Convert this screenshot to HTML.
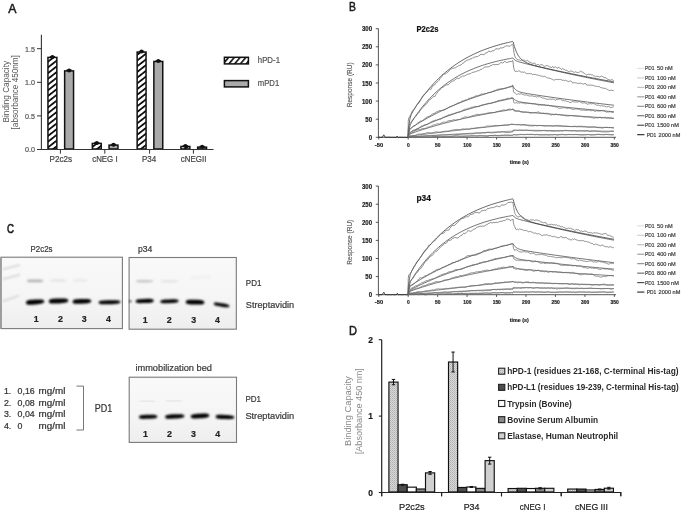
<!DOCTYPE html>
<html><head><meta charset="utf-8"><style>
html,body{margin:0;padding:0;background:#fff;}
svg{display:block;will-change:transform;filter:blur(0.35px);font-family:"Liberation Sans", sans-serif;}
</style></head><body>
<svg width="685" height="512" viewBox="0 0 685 512">
<defs>
<pattern id="hatchA" patternUnits="userSpaceOnUse" width="4.5" height="4.5" patternTransform="translate(0,1) rotate(-38)">
<rect width="4.5" height="4.5" fill="#fff"/><rect y="0" width="4.5" height="1.8" fill="#111"/></pattern>
<pattern id="hatchL" patternUnits="userSpaceOnUse" width="4.4" height="4.4" patternTransform="rotate(-50)">
<rect width="4.4" height="4.4" fill="#fff"/><rect y="0" width="4.4" height="1.6" fill="#111"/></pattern>
<pattern id="hatchD" patternUnits="userSpaceOnUse" width="2" height="2">
<rect width="2" height="2" fill="#d8d8d8"/><rect width="1" height="1" fill="#b0b0b0"/><rect x="1" y="1" width="1" height="1" fill="#c0c0c0"/></pattern>
<linearGradient id="gelbg" x1="0" y1="0" x2="0" y2="1"><stop offset="0" stop-color="#f9f9f9"/><stop offset="0.6" stop-color="#f5f5f5"/><stop offset="1" stop-color="#eeeeee"/></linearGradient>
<filter id="bblur" x="-20%" y="-50%" width="140%" height="200%"><feGaussianBlur stdDeviation="0.85"/></filter>
<filter id="lblur" x="-20%" y="-100%" width="140%" height="300%"><feGaussianBlur stdDeviation="0.9"/></filter>
<filter id="sblur" x="-20%" y="-100%" width="140%" height="300%"><feGaussianBlur stdDeviation="0.6"/></filter>
</defs>
<rect width="685" height="512" fill="#fff"/>
<text x="8.2" y="13.2" font-size="12.3" fill="#1a1a1a" text-anchor="start" font-weight="normal" textLength="8.2" lengthAdjust="spacingAndGlyphs" stroke="#1a1a1a" stroke-width="0.5" >A</text>
<line x1="41.4" y1="34.7" x2="41.4" y2="150.0" stroke="#333" stroke-width="1.1" />
<line x1="40.9" y1="149.5" x2="213.3" y2="149.5" stroke="#333" stroke-width="1.1" />
<line x1="37.0" y1="149.5" x2="41.4" y2="149.5" stroke="#333" stroke-width="1" />
<text x="34.9" y="152.4" font-size="8.0" fill="#555" text-anchor="end" font-weight="normal" textLength="9.9" lengthAdjust="spacingAndGlyphs" stroke="#555" stroke-width="0.22" >0.0</text>
<line x1="37.0" y1="115.9" x2="41.4" y2="115.9" stroke="#333" stroke-width="1" />
<text x="34.9" y="118.80000000000001" font-size="8.0" fill="#555" text-anchor="end" font-weight="normal" textLength="9.9" lengthAdjust="spacingAndGlyphs" stroke="#555" stroke-width="0.22" >0.5</text>
<line x1="37.0" y1="82.3" x2="41.4" y2="82.3" stroke="#333" stroke-width="1" />
<text x="34.9" y="85.2" font-size="8.0" fill="#555" text-anchor="end" font-weight="normal" textLength="9.9" lengthAdjust="spacingAndGlyphs" stroke="#555" stroke-width="0.22" >1.0</text>
<line x1="37.0" y1="48.69999999999999" x2="41.4" y2="48.69999999999999" stroke="#333" stroke-width="1" />
<text x="34.9" y="51.59999999999999" font-size="8.0" fill="#555" text-anchor="end" font-weight="normal" textLength="9.9" lengthAdjust="spacingAndGlyphs" stroke="#555" stroke-width="0.22" >1.5</text>
<line x1="60.4" y1="149.5" x2="60.4" y2="153.7" stroke="#333" stroke-width="1" />
<text x="60.75" y="162.4" font-size="8.6" fill="#444" text-anchor="middle" font-weight="normal" textLength="22.5" lengthAdjust="spacingAndGlyphs" stroke="#444" stroke-width="0.22" >P2c2s</text>
<rect x="47.95" y="57.44" width="8.90" height="91.56" fill="url(#hatchA)" stroke="#111" stroke-width="1.5" />
<circle cx="52.40" cy="56.94" r="2.0" fill="#111"/>
<line x1="49.7" y1="56.635999999999996" x2="55.10000000000001" y2="56.635999999999996" stroke="#111" stroke-width="1" />
<rect x="64.65" y="70.88" width="8.90" height="78.12" fill="#aaa" stroke="#111" stroke-width="1.5" />
<circle cx="69.10" cy="70.38" r="2.0" fill="#111"/>
<line x1="66.39999999999999" y1="70.07600000000001" x2="71.8" y2="70.07600000000001" stroke="#111" stroke-width="1" />
<line x1="104.8" y1="149.5" x2="104.8" y2="153.7" stroke="#333" stroke-width="1" />
<text x="104.9" y="162.4" font-size="8.6" fill="#444" text-anchor="middle" font-weight="normal" textLength="25.4" lengthAdjust="spacingAndGlyphs" stroke="#444" stroke-width="0.22" >cNEG I</text>
<rect x="92.35" y="143.45" width="8.90" height="5.55" fill="url(#hatchA)" stroke="#111" stroke-width="1.5" />
<circle cx="96.80" cy="142.95" r="2.0" fill="#111"/>
<line x1="94.1" y1="142.652" x2="99.5" y2="142.652" stroke="#111" stroke-width="1" />
<rect x="109.05" y="145.13" width="8.90" height="3.87" fill="#aaa" stroke="#111" stroke-width="1.5" />
<circle cx="113.50" cy="144.63" r="2.0" fill="#111"/>
<line x1="110.8" y1="144.332" x2="116.2" y2="144.332" stroke="#111" stroke-width="1" />
<line x1="149.6" y1="149.5" x2="149.6" y2="153.7" stroke="#333" stroke-width="1" />
<text x="149.1" y="162.4" font-size="8.6" fill="#444" text-anchor="middle" font-weight="normal" textLength="14.2" lengthAdjust="spacingAndGlyphs" stroke="#444" stroke-width="0.22" >P34</text>
<rect x="137.15" y="52.06" width="8.90" height="96.94" fill="url(#hatchA)" stroke="#111" stroke-width="1.5" />
<circle cx="141.60" cy="51.56" r="2.0" fill="#111"/>
<line x1="138.9" y1="51.260000000000005" x2="144.29999999999998" y2="51.260000000000005" stroke="#111" stroke-width="1" />
<rect x="153.85" y="61.47" width="8.90" height="87.53" fill="#aaa" stroke="#111" stroke-width="1.5" />
<circle cx="158.30" cy="60.97" r="2.0" fill="#111"/>
<line x1="155.6" y1="60.66799999999999" x2="160.99999999999997" y2="60.66799999999999" stroke="#111" stroke-width="1" />
<line x1="193.4" y1="149.5" x2="193.4" y2="153.7" stroke="#333" stroke-width="1" />
<text x="193.65" y="162.4" font-size="8.6" fill="#444" text-anchor="middle" font-weight="normal" textLength="25.7" lengthAdjust="spacingAndGlyphs" stroke="#444" stroke-width="0.22" >cNEGII</text>
<rect x="180.95" y="146.48" width="8.90" height="2.52" fill="url(#hatchA)" stroke="#111" stroke-width="1.5" />
<circle cx="185.40" cy="145.98" r="2.0" fill="#111"/>
<line x1="182.70000000000002" y1="145.676" x2="188.1" y2="145.676" stroke="#111" stroke-width="1" />
<rect x="197.65" y="147.15" width="8.90" height="1.85" fill="#aaa" stroke="#111" stroke-width="1.5" />
<circle cx="202.10" cy="146.65" r="2.0" fill="#111"/>
<line x1="199.4" y1="146.34799999999998" x2="204.79999999999998" y2="146.34799999999998" stroke="#111" stroke-width="1" />
<line x1="40.9" y1="149.5" x2="213.3" y2="149.5" stroke="#333" stroke-width="1.1" />
<rect x="224.40" y="57.30" width="24.00" height="6.60" fill="url(#hatchL)" stroke="#111" stroke-width="1.5" />
<rect x="224.40" y="80.60" width="24.00" height="6.30" fill="#aaa" stroke="#111" stroke-width="1.5" />
<text x="257.8" y="63.2" font-size="8.4" fill="#555" text-anchor="start" font-weight="normal" textLength="22.2" lengthAdjust="spacingAndGlyphs" stroke="#555" stroke-width="0.22" >hPD-1</text>
<text x="257.8" y="86.0" font-size="8.4" fill="#555" text-anchor="start" font-weight="normal" textLength="21.4" lengthAdjust="spacingAndGlyphs" stroke="#555" stroke-width="0.22" >mPD1</text>
<text transform="translate(9.2,91.7) rotate(-90)" font-size="8.2" fill="#555" text-anchor="middle" textLength="61.5" lengthAdjust="spacingAndGlyphs">Binding Capacity</text>
<text transform="translate(18.3,92.3) rotate(-90)" font-size="8.2" fill="#555" text-anchor="middle" textLength="74.2" lengthAdjust="spacingAndGlyphs">[absorbance 450nm]</text>
<text x="349.0" y="11.1" font-size="12.3" fill="#1a1a1a" text-anchor="start" font-weight="normal" textLength="6.9" lengthAdjust="spacingAndGlyphs" stroke="#1a1a1a" stroke-width="0.55">B</text>
<line x1="378.4" y1="28.5" x2="378.4" y2="137.8" stroke="#444" stroke-width="0.9" />
<line x1="378.0" y1="137.3" x2="616" y2="137.3" stroke="#444" stroke-width="0.9" />
<line x1="375.8" y1="137.3" x2="378.4" y2="137.3" stroke="#444" stroke-width="0.9" />
<text x="372.0" y="139.8" font-size="7.0" fill="#222" text-anchor="end" font-weight="bold" textLength="3.35" lengthAdjust="spacingAndGlyphs" stroke="#222" stroke-width="0.2" >0</text>
<line x1="375.8" y1="119.20000000000002" x2="378.4" y2="119.20000000000002" stroke="#444" stroke-width="0.9" />
<text x="372.0" y="121.70000000000002" font-size="7.0" fill="#222" text-anchor="end" font-weight="bold" textLength="6.7" lengthAdjust="spacingAndGlyphs" stroke="#222" stroke-width="0.2" >50</text>
<line x1="375.8" y1="101.10000000000001" x2="378.4" y2="101.10000000000001" stroke="#444" stroke-width="0.9" />
<text x="372.0" y="103.60000000000001" font-size="7.0" fill="#222" text-anchor="end" font-weight="bold" textLength="10.05" lengthAdjust="spacingAndGlyphs" stroke="#222" stroke-width="0.2" >100</text>
<line x1="375.8" y1="83.0" x2="378.4" y2="83.0" stroke="#444" stroke-width="0.9" />
<text x="372.0" y="85.5" font-size="7.0" fill="#222" text-anchor="end" font-weight="bold" textLength="10.05" lengthAdjust="spacingAndGlyphs" stroke="#222" stroke-width="0.2" >150</text>
<line x1="375.8" y1="64.9" x2="378.4" y2="64.9" stroke="#444" stroke-width="0.9" />
<text x="372.0" y="67.4" font-size="7.0" fill="#222" text-anchor="end" font-weight="bold" textLength="10.05" lengthAdjust="spacingAndGlyphs" stroke="#222" stroke-width="0.2" >200</text>
<line x1="375.8" y1="46.8" x2="378.4" y2="46.8" stroke="#444" stroke-width="0.9" />
<text x="372.0" y="49.3" font-size="7.0" fill="#222" text-anchor="end" font-weight="bold" textLength="10.05" lengthAdjust="spacingAndGlyphs" stroke="#222" stroke-width="0.2" >250</text>
<line x1="375.8" y1="28.700000000000003" x2="378.4" y2="28.700000000000003" stroke="#444" stroke-width="0.9" />
<text x="372.0" y="31.200000000000003" font-size="7.0" fill="#222" text-anchor="end" font-weight="bold" textLength="10.05" lengthAdjust="spacingAndGlyphs" stroke="#222" stroke-width="0.2" >300</text>
<line x1="378.75" y1="137.3" x2="378.75" y2="139.5" stroke="#444" stroke-width="0.9" />
<text x="378.95" y="146.9" font-size="5.8" fill="#222" text-anchor="middle" font-weight="bold" textLength="8.25" lengthAdjust="spacingAndGlyphs" stroke="#222" stroke-width="0.2" >-50</text>
<line x1="408.2" y1="137.3" x2="408.2" y2="139.5" stroke="#444" stroke-width="0.9" />
<text x="408.4" y="146.9" font-size="5.8" fill="#222" text-anchor="middle" font-weight="bold" textLength="2.75" lengthAdjust="spacingAndGlyphs" stroke="#222" stroke-width="0.2" >0</text>
<line x1="437.65" y1="137.3" x2="437.65" y2="139.5" stroke="#444" stroke-width="0.9" />
<text x="437.84999999999997" y="146.9" font-size="5.8" fill="#222" text-anchor="middle" font-weight="bold" textLength="5.5" lengthAdjust="spacingAndGlyphs" stroke="#222" stroke-width="0.2" >50</text>
<line x1="467.09999999999997" y1="137.3" x2="467.09999999999997" y2="139.5" stroke="#444" stroke-width="0.9" />
<text x="467.29999999999995" y="146.9" font-size="5.8" fill="#222" text-anchor="middle" font-weight="bold" textLength="8.25" lengthAdjust="spacingAndGlyphs" stroke="#222" stroke-width="0.2" >100</text>
<line x1="496.54999999999995" y1="137.3" x2="496.54999999999995" y2="139.5" stroke="#444" stroke-width="0.9" />
<text x="496.74999999999994" y="146.9" font-size="5.8" fill="#222" text-anchor="middle" font-weight="bold" textLength="8.25" lengthAdjust="spacingAndGlyphs" stroke="#222" stroke-width="0.2" >150</text>
<line x1="526.0" y1="137.3" x2="526.0" y2="139.5" stroke="#444" stroke-width="0.9" />
<text x="526.2" y="146.9" font-size="5.8" fill="#222" text-anchor="middle" font-weight="bold" textLength="8.25" lengthAdjust="spacingAndGlyphs" stroke="#222" stroke-width="0.2" >200</text>
<line x1="555.45" y1="137.3" x2="555.45" y2="139.5" stroke="#444" stroke-width="0.9" />
<text x="555.6500000000001" y="146.9" font-size="5.8" fill="#222" text-anchor="middle" font-weight="bold" textLength="8.25" lengthAdjust="spacingAndGlyphs" stroke="#222" stroke-width="0.2" >250</text>
<line x1="584.9" y1="137.3" x2="584.9" y2="139.5" stroke="#444" stroke-width="0.9" />
<text x="585.1" y="146.9" font-size="5.8" fill="#222" text-anchor="middle" font-weight="bold" textLength="8.25" lengthAdjust="spacingAndGlyphs" stroke="#222" stroke-width="0.2" >300</text>
<line x1="614.3499999999999" y1="137.3" x2="614.3499999999999" y2="139.5" stroke="#444" stroke-width="0.9" />
<text x="614.55" y="146.9" font-size="5.8" fill="#222" text-anchor="middle" font-weight="bold" textLength="8.25" lengthAdjust="spacingAndGlyphs" stroke="#222" stroke-width="0.2" >350</text>
<text x="519.3" y="164.4" font-size="5.8" fill="#222" text-anchor="middle" font-weight="bold" textLength="19" lengthAdjust="spacingAndGlyphs" stroke="#222" stroke-width="0.2" >time (s)</text>
<text transform="translate(352.2,84.8) rotate(-90)" font-size="7.6" fill="#5a5a5a" stroke="#5a5a5a" stroke-width="0.15" text-anchor="middle" textLength="45" lengthAdjust="spacingAndGlyphs">Response (RU)</text>
<text x="416.5" y="32.1" font-size="8.6" fill="#111" text-anchor="start" font-weight="bold" textLength="21.9" lengthAdjust="spacingAndGlyphs" stroke="#111" stroke-width="0.2" >P2c2s</text>
<polyline fill="none" stroke="#222" stroke-width="1" points="378.75,137.26 379.04,137.21 379.34,137.19 379.63,137.14 379.93,137.21 380.22,137.15 380.52,137.47 380.81,137.31 381.11,137.14 381.40,137.25 381.69,137.15 381.99,137.44 382.28,137.31 382.58,136.88 382.87,136.27 383.17,135.75 383.46,135.45 383.76,134.87 384.05,135.35 384.35,135.63 384.64,136.19 384.93,136.92 385.23,137.19 385.52,137.43 385.82,137.26 386.11,137.44 386.41,137.48 386.70,137.17 387.00,137.41 387.29,137.40 387.58,137.13 387.88,137.17 388.17,137.38 388.47,137.13 388.76,137.29 389.06,137.24 389.35,137.41 389.65,137.14 389.94,137.23 390.24,137.13 390.53,137.16 390.82,137.37 391.12,137.35 391.41,137.42 391.71,137.43 392.00,137.46 392.30,137.37 392.59,137.26 392.89,137.48 393.18,137.24 393.47,137.36 393.77,137.37 394.06,137.18 394.36,137.31 394.65,137.37 394.95,137.31 395.24,137.23 395.54,137.46 395.83,137.13 396.13,137.47 396.42,137.03 396.71,136.69 397.01,136.69 397.30,136.11 397.60,136.56 397.89,136.79 398.19,137.30 398.48,137.46 398.78,137.42 399.07,137.14 399.37,137.41 399.66,137.21 399.95,137.14 400.25,137.14 400.54,137.36 400.84,137.35 401.13,137.29 401.43,137.20 401.72,137.44 402.02,137.21 402.31,137.19 402.60,137.17 402.90,137.47 403.19,137.14 403.49,137.45 403.78,137.36 404.08,137.26 404.37,137.15 404.67,137.36 404.96,137.15 405.25,137.28 405.55,137.37 405.84,137.37 406.14,137.42 406.43,137.45 406.73,137.43 407.02,137.23 407.32,137.12 407.61,137.42 407.91,137.46 408.20,137.12"/>
<polyline fill="none" stroke="#222" stroke-width="0.7" points="408.20,137.30 408.35,134.29 408.64,129.47 408.94,125.87 409.23,123.15 409.53,121.05 409.82,119.40 410.11,118.08 410.41,116.99 410.70,116.07 411.00,115.27 411.29,114.55 411.59,113.90 411.88,113.30 413.65,110.16 415.42,107.32 417.18,104.62 418.95,102.01 420.72,99.50 422.48,97.07 424.25,94.73 426.02,92.48 427.78,90.30 429.55,88.20 431.32,86.17 433.09,84.22 434.85,82.34 436.62,80.52 438.39,78.76 440.15,77.07 441.92,75.44 443.69,73.86 445.45,72.35 447.22,70.88 448.99,69.47 450.76,68.10 452.52,66.79 454.29,65.52 456.06,64.30 457.82,63.12 459.59,61.98 461.36,60.88 463.12,59.82 464.89,58.80 466.66,57.81 468.43,56.86 470.19,55.94 471.96,55.06 473.73,54.21 475.49,53.38 477.26,52.59 479.03,51.82 480.79,51.08 482.56,50.37 484.33,49.68 486.10,49.02 487.86,48.38 489.63,47.76 491.40,47.16 493.16,46.59 494.93,46.04 496.70,45.50 498.46,44.99 500.23,44.49 502.00,44.01 503.77,43.54 505.53,43.10 507.30,42.67 507.89,42.53 508.48,42.39 509.07,42.25 509.66,42.12 510.24,41.98 510.83,41.85 511.42,41.72 512.01,41.59 512.60,41.46 513.19,42.00 513.78,44.33 514.37,46.40 514.96,48.25 515.55,49.89 516.13,51.36 516.72,52.68 517.31,53.85 517.90,54.91 518.49,55.86 519.08,56.71 519.67,57.48 520.26,58.17 522.02,59.90 523.79,61.21 525.56,62.25 527.33,63.09 529.09,63.79 530.86,64.41 532.63,64.95 534.39,65.46 536.16,65.93 537.93,66.38 539.69,66.81 541.46,67.23 543.23,67.64 545.00,68.05 546.76,68.45 548.53,68.85 550.30,69.24 552.06,69.63 553.83,70.01 555.60,70.40 557.36,70.78 559.13,71.16 560.90,71.53 562.67,71.91 564.43,72.28 566.20,72.65 567.97,73.02 569.73,73.38 571.50,73.75 573.27,74.11 575.03,74.47 576.80,74.82 578.57,75.18 580.34,75.53 582.10,75.88 583.87,76.23 585.64,76.58 587.40,76.92 589.17,77.27 590.94,77.61 592.70,77.95 594.47,78.28 596.24,78.62 598.01,78.95 599.77,79.29 601.54,79.61 603.31,79.94 605.07,80.27 606.84,80.59 608.61,80.92 610.37,81.24 612.14,81.55 613.91,81.87"/>
<polyline fill="none" stroke="#6a6a6a" stroke-width="0.75" points="408.20,137.30 408.23,121.30 408.79,118.00 409.79,116.31 410.79,114.49 411.79,112.11 412.79,110.39 413.80,109.51 414.80,108.14 415.80,106.53 416.80,104.95 417.80,103.62 418.80,103.21 419.80,101.56 420.80,99.47 421.81,97.56 422.81,95.74 423.81,95.01 424.81,93.88 425.81,93.06 426.81,92.19 427.81,90.88 428.81,89.50 429.82,88.82 430.82,89.58 431.82,87.43 432.82,85.30 433.82,85.45 434.82,84.76 435.82,83.27 436.83,82.18 437.83,81.64 438.83,80.57 439.83,78.92 440.83,77.67 441.83,76.43 442.83,74.39 443.83,74.08 444.84,73.98 445.84,73.73 446.84,73.04 447.84,72.03 448.84,71.41 449.84,69.76 450.84,68.91 451.84,68.80 452.85,67.99 453.85,68.30 454.85,67.76 455.85,67.67 456.85,66.69 457.85,66.34 458.85,65.55 459.86,65.11 460.86,65.12 461.86,64.03 462.86,63.31 463.86,62.89 464.86,61.34 465.86,61.00 466.86,60.45 467.87,59.88 468.87,59.68 469.87,59.15 470.87,58.80 471.87,58.66 472.87,57.63 473.87,57.75 474.87,56.90 475.88,56.77 476.88,56.63 477.88,56.57 478.88,55.54 479.88,55.32 480.88,54.07 481.88,54.49 482.89,54.37 483.89,54.98 484.89,53.43 485.89,52.96 486.89,52.67 487.89,52.11 488.89,50.93 489.89,51.65 490.90,51.85 491.90,51.03 492.90,50.61 493.90,50.89 494.90,49.79 495.90,48.52 496.90,48.97 497.90,48.94 498.91,49.12 499.91,48.21 500.91,47.70 501.91,48.10 502.91,47.63 503.91,47.32 504.91,46.61 505.92,45.85 506.92,45.92 507.92,45.99 508.92,45.99 509.92,46.32 510.92,45.28 511.22,45.01 511.51,44.92 511.81,44.70 512.10,44.38 512.39,44.09 512.69,44.06 512.98,44.64 513.28,47.20 513.57,49.66 513.87,52.25 514.16,53.25 514.46,54.88 514.75,56.03 515.04,56.72 515.34,57.30 515.63,58.11 516.63,58.87 517.64,59.66 518.64,59.85 519.64,59.88 520.64,60.63 521.64,60.10 522.64,60.29 523.64,60.12 524.65,60.22 525.65,61.08 526.65,60.84 527.65,60.37 528.65,61.25 529.65,62.54 530.65,62.28 531.65,62.91 532.66,63.52 533.66,63.21 534.66,62.92 535.66,64.51 536.66,65.06 537.66,64.33 538.66,64.67 539.66,65.49 540.67,64.63 541.67,64.67 542.67,65.00 543.67,65.97 544.67,66.37 545.67,65.98 546.67,65.64 547.68,65.61 548.68,66.35 549.68,66.98 550.68,67.02 551.68,67.61 552.68,66.40 553.68,67.86 554.68,67.13 555.69,66.95 556.69,67.82 557.69,68.26 558.69,67.09 559.69,68.26 560.69,68.64 561.69,69.62 562.69,68.42 563.70,69.35 564.70,69.65 565.70,70.22 566.70,70.39 567.70,71.01 568.70,71.51 569.70,71.79 570.71,70.94 571.71,71.18 572.71,71.53 573.71,72.17 574.71,72.37 575.71,71.66 576.71,72.37 577.71,72.58 578.72,72.38 579.72,71.82 580.72,71.04 581.72,71.98 582.72,71.85 583.72,73.23 584.72,73.46 585.72,74.47 586.73,75.12 587.73,74.49 588.73,74.12 589.73,74.68 590.73,74.34 591.73,74.96 592.73,74.88 593.73,75.81 594.74,76.09 595.74,76.79 596.74,76.15 597.74,76.49 598.74,76.76 599.74,76.93 600.74,76.53 601.75,75.90 602.75,76.96 603.75,77.34 604.75,77.61 605.75,77.74 606.75,78.52 607.75,79.33 608.75,79.63 609.76,79.93 610.76,80.24 611.76,79.64 612.76,79.94 613.76,80.72"/>
<polyline fill="none" stroke="#333" stroke-width="0.7" points="408.20,137.30 408.35,135.57 408.64,132.76 408.94,130.61 409.23,128.93 409.53,127.59 409.82,126.50 410.11,125.58 410.41,124.78 410.70,124.08 411.00,123.45 411.29,122.86 411.59,122.31 411.88,121.79 413.65,118.93 415.42,116.30 417.18,113.77 418.95,111.35 420.72,109.01 422.48,106.77 424.25,104.62 426.02,102.54 427.78,100.55 429.55,98.63 431.32,96.78 433.09,95.01 434.85,93.30 436.62,91.66 438.39,90.08 440.15,88.56 441.92,87.10 443.69,85.70 445.45,84.35 447.22,83.05 448.99,81.80 450.76,80.60 452.52,79.44 454.29,78.33 456.06,77.26 457.82,76.23 459.59,75.24 461.36,74.29 463.12,73.38 464.89,72.50 466.66,71.65 468.43,70.84 470.19,70.06 471.96,69.30 473.73,68.58 475.49,67.88 477.26,67.21 479.03,66.57 480.79,65.95 482.56,65.35 484.33,64.78 486.10,64.23 487.86,63.70 489.63,63.19 491.40,62.70 493.16,62.23 494.93,61.78 496.70,61.34 498.46,60.92 500.23,60.52 502.00,60.13 503.77,59.76 505.53,59.40 507.30,59.05 507.89,58.94 508.48,58.83 509.07,58.72 509.66,58.62 510.24,58.51 510.83,58.40 511.42,58.30 512.01,58.20 512.60,58.10 513.19,58.25 513.78,59.03 514.37,59.62 514.96,60.10 515.55,60.48 516.13,60.79 516.72,61.06 517.31,61.30 517.90,61.51 518.49,61.71 519.08,61.89 519.67,62.06 520.26,62.23 522.02,62.71 523.79,63.16 525.56,63.61 527.33,64.06 529.09,64.50 530.86,64.94 532.63,65.37 534.39,65.80 536.16,66.23 537.93,66.66 539.69,67.09 541.46,67.51 543.23,67.93 545.00,68.34 546.76,68.76 548.53,69.17 550.30,69.58 552.06,69.99 553.83,70.39 555.60,70.79 557.36,71.19 559.13,71.59 560.90,71.99 562.67,72.38 564.43,72.77 566.20,73.16 567.97,73.54 569.73,73.93 571.50,74.31 573.27,74.69 575.03,75.06 576.80,75.44 578.57,75.81 580.34,76.18 582.10,76.55 583.87,76.91 585.64,77.27 587.40,77.64 589.17,77.99 590.94,78.35 592.70,78.71 594.47,79.06 596.24,79.41 598.01,79.76 599.77,80.10 601.54,80.45 603.31,80.79 605.07,81.13 606.84,81.46 608.61,81.80 610.37,82.13 612.14,82.47 613.91,82.80"/>
<polyline fill="none" stroke="#6a6a6a" stroke-width="0.75" points="408.20,137.30 408.23,128.68 408.79,125.66 409.79,124.11 410.79,122.35 411.79,120.96 412.79,119.81 413.80,118.09 414.80,117.45 415.80,116.38 416.80,114.77 417.80,113.22 418.80,112.93 419.80,111.12 420.80,109.38 421.81,108.72 422.81,107.60 423.81,106.46 424.81,104.98 425.81,104.56 426.81,103.71 427.81,102.10 428.81,100.81 429.82,99.40 430.82,99.19 431.82,98.13 432.82,97.15 433.82,96.33 434.82,96.53 435.82,94.52 436.83,93.53 437.83,91.74 438.83,90.78 439.83,90.01 440.83,88.73 441.83,87.54 442.83,87.38 443.83,86.62 444.84,85.85 445.84,85.16 446.84,84.84 447.84,84.68 448.84,84.34 449.84,83.30 450.84,82.16 451.84,81.50 452.85,81.01 453.85,80.69 454.85,80.07 455.85,79.03 456.85,78.47 457.85,78.18 458.85,78.73 459.86,77.76 460.86,76.88 461.86,76.70 462.86,75.65 463.86,76.39 464.86,75.69 465.86,75.24 466.86,74.58 467.87,74.18 468.87,73.94 469.87,73.78 470.87,73.60 471.87,72.48 472.87,72.35 473.87,72.12 474.87,71.84 475.88,71.63 476.88,71.17 477.88,70.64 478.88,70.70 479.88,69.91 480.88,69.20 481.88,69.37 482.89,68.36 483.89,67.76 484.89,66.91 485.89,66.95 486.89,66.97 487.89,66.86 488.89,66.79 489.89,66.07 490.90,65.46 491.90,65.32 492.90,64.29 493.90,64.79 494.90,64.66 495.90,64.52 496.90,64.50 497.90,64.36 498.91,64.32 499.91,63.44 500.91,62.47 501.91,62.75 502.91,63.06 503.91,62.05 504.91,61.34 505.92,62.01 506.92,62.77 507.92,62.16 508.92,61.58 509.92,61.80 510.92,61.45 511.22,61.85 511.51,61.28 511.81,61.65 512.10,61.28 512.39,60.80 512.69,60.34 512.98,61.65 513.28,64.16 513.57,67.17 513.87,68.07 514.16,69.60 514.46,70.15 514.75,71.12 515.04,71.49 515.34,71.59 515.63,71.38 516.63,71.30 517.64,71.45 518.64,70.73 519.64,70.93 520.64,72.14 521.64,72.24 522.64,71.95 523.64,72.29 524.65,72.12 525.65,72.94 526.65,73.66 527.65,73.57 528.65,73.57 529.65,73.67 530.65,73.72 531.65,73.68 532.66,74.78 533.66,74.33 534.66,74.46 535.66,74.53 536.66,74.96 537.66,75.03 538.66,75.47 539.66,75.45 540.67,75.93 541.67,76.21 542.67,76.09 543.67,76.65 544.67,76.27 545.67,76.94 546.67,77.47 547.68,78.14 548.68,78.01 549.68,78.26 550.68,78.61 551.68,79.06 552.68,79.45 553.68,80.12 554.68,79.85 555.69,79.59 556.69,79.38 557.69,79.55 558.69,79.37 559.69,79.47 560.69,79.38 561.69,79.86 562.69,80.39 563.70,80.17 564.70,80.68 565.70,80.23 566.70,80.71 567.70,81.34 568.70,81.55 569.70,81.11 570.71,80.89 571.71,81.63 572.71,83.12 573.71,82.62 574.71,82.66 575.71,82.89 576.71,83.03 577.71,83.73 578.72,83.28 579.72,83.38 580.72,83.11 581.72,83.54 582.72,83.99 583.72,84.09 584.72,83.49 585.72,83.54 586.73,85.11 587.73,85.21 588.73,85.06 589.73,85.20 590.73,85.03 591.73,85.24 592.73,85.25 593.73,85.50 594.74,86.19 595.74,86.20 596.74,86.35 597.74,86.58 598.74,86.56 599.74,86.91 600.74,87.63 601.75,87.78 602.75,88.09 603.75,88.21 604.75,88.40 605.75,88.29 606.75,89.44 607.75,89.62 608.75,90.27 609.76,90.57 610.76,90.31 611.76,90.08 612.76,90.55 613.76,90.55"/>
<polyline fill="none" stroke="#333" stroke-width="0.7" points="408.20,137.30 408.35,136.04 408.64,134.03 408.94,132.53 409.23,131.41 409.53,130.55 409.82,129.88 410.11,129.34 410.41,128.90 410.70,128.54 411.00,128.22 411.29,127.94 411.59,127.68 411.88,127.45 413.65,126.22 415.42,125.11 417.18,124.02 418.95,122.95 420.72,121.90 422.48,120.87 424.25,119.86 426.02,118.87 427.78,117.89 429.55,116.93 431.32,115.99 433.09,115.06 434.85,114.15 436.62,113.25 438.39,112.37 440.15,111.51 441.92,110.65 443.69,109.82 445.45,109.00 447.22,108.19 448.99,107.40 450.76,106.62 452.52,105.85 454.29,105.10 456.06,104.36 457.82,103.63 459.59,102.92 461.36,102.22 463.12,101.53 464.89,100.85 466.66,100.18 468.43,99.53 470.19,98.88 471.96,98.25 473.73,97.63 475.49,97.02 477.26,96.42 479.03,95.83 480.79,95.25 482.56,94.68 484.33,94.12 486.10,93.57 487.86,93.03 489.63,92.49 491.40,91.97 493.16,91.46 494.93,90.95 496.70,90.46 498.46,89.97 500.23,89.49 502.00,89.02 503.77,88.56 505.53,88.10 507.30,87.66 507.89,87.51 508.48,87.36 509.07,87.22 509.66,87.07 510.24,86.93 510.83,86.79 511.42,86.64 512.01,86.50 512.60,86.36 513.19,86.53 513.78,87.51 514.37,88.32 514.96,89.01 515.55,89.59 516.13,90.08 516.72,90.50 517.31,90.86 517.90,91.17 518.49,91.44 519.08,91.68 519.67,91.90 520.26,92.09 522.02,92.57 523.79,92.96 525.56,93.29 527.33,93.60 529.09,93.90 530.86,94.18 532.63,94.45 534.39,94.73 536.16,94.99 537.93,95.26 539.69,95.53 541.46,95.79 543.23,96.05 545.00,96.31 546.76,96.57 548.53,96.82 550.30,97.08 552.06,97.33 553.83,97.58 555.60,97.83 557.36,98.08 559.13,98.32 560.90,98.57 562.67,98.81 564.43,99.05 566.20,99.29 567.97,99.53 569.73,99.77 571.50,100.00 573.27,100.24 575.03,100.47 576.80,100.70 578.57,100.93 580.34,101.16 582.10,101.39 583.87,101.61 585.64,101.84 587.40,102.06 589.17,102.28 590.94,102.50 592.70,102.72 594.47,102.94 596.24,103.15 598.01,103.37 599.77,103.58 601.54,103.79 603.31,104.00 605.07,104.21 606.84,104.42 608.61,104.63 610.37,104.83 612.14,105.04 613.91,105.24"/>
<polyline fill="none" stroke="#6a6a6a" stroke-width="0.75" points="408.20,137.30 408.23,130.53 408.79,129.24 409.79,128.62 410.79,128.24 411.79,127.80 412.79,126.61 413.80,125.99 414.80,125.85 415.80,124.72 416.80,123.90 417.80,122.98 418.80,122.37 419.80,121.55 420.80,120.88 421.81,121.01 422.81,120.38 423.81,119.51 424.81,118.67 425.81,118.01 426.81,117.19 427.81,116.58 428.81,116.42 429.82,116.07 430.82,115.02 431.82,114.43 432.82,113.83 433.82,113.43 434.82,113.15 435.82,112.40 436.83,111.76 437.83,111.24 438.83,111.20 439.83,110.25 440.83,110.71 441.83,110.48 442.83,110.28 443.83,110.18 444.84,109.83 445.84,109.29 446.84,108.39 447.84,108.30 448.84,107.08 449.84,106.79 450.84,106.39 451.84,106.17 452.85,105.50 453.85,105.36 454.85,104.73 455.85,104.16 456.85,103.59 457.85,102.96 458.85,102.77 459.86,102.66 460.86,101.65 461.86,101.13 462.86,100.97 463.86,100.71 464.86,100.21 465.86,99.86 466.86,100.03 467.87,99.05 468.87,98.32 469.87,98.31 470.87,98.02 471.87,97.39 472.87,97.42 473.87,96.90 474.87,96.19 475.88,96.03 476.88,95.59 477.88,95.97 478.88,95.29 479.88,94.82 480.88,94.37 481.88,93.72 482.89,94.48 483.89,93.87 484.89,93.58 485.89,93.51 486.89,93.54 487.89,92.42 488.89,92.63 489.89,92.24 490.90,92.55 491.90,91.92 492.90,91.18 493.90,91.15 494.90,90.40 495.90,90.35 496.90,89.62 497.90,89.13 498.91,89.21 499.91,89.04 500.91,88.82 501.91,88.69 502.91,88.89 503.91,88.81 504.91,88.22 505.92,88.23 506.92,87.87 507.92,87.32 508.92,86.99 509.92,86.39 510.92,86.70 511.22,86.18 511.51,86.24 511.81,85.94 512.10,86.03 512.39,85.06 512.69,84.97 512.98,86.34 513.28,89.54 513.57,91.72 513.87,92.20 514.16,92.22 514.46,92.77 514.75,93.03 515.04,93.13 515.34,93.14 515.63,93.46 516.63,94.43 517.64,94.21 518.64,93.68 519.64,94.18 520.64,93.86 521.64,93.81 522.64,94.54 523.64,94.62 524.65,95.17 525.65,94.84 526.65,95.05 527.65,95.46 528.65,95.73 529.65,96.10 530.65,95.96 531.65,95.79 532.66,95.95 533.66,96.47 534.66,96.31 535.66,96.61 536.66,97.12 537.66,96.52 538.66,96.85 539.66,96.55 540.67,97.13 541.67,97.55 542.67,98.08 543.67,98.02 544.67,98.44 545.67,98.91 546.67,99.15 547.68,99.36 548.68,99.29 549.68,99.10 550.68,99.06 551.68,99.42 552.68,99.06 553.68,99.17 554.68,99.89 555.69,100.18 556.69,99.36 557.69,99.65 558.69,99.24 559.69,98.99 560.69,99.11 561.69,99.95 562.69,100.97 563.70,100.52 564.70,101.00 565.70,100.74 566.70,101.40 567.70,101.61 568.70,101.77 569.70,102.53 570.71,102.44 571.71,102.26 572.71,101.24 573.71,101.84 574.71,102.07 575.71,101.82 576.71,102.01 577.71,101.96 578.72,101.71 579.72,101.39 580.72,102.29 581.72,102.80 582.72,103.17 583.72,102.82 584.72,102.67 585.72,103.47 586.73,103.76 587.73,104.34 588.73,103.74 589.73,103.78 590.73,103.62 591.73,103.88 592.73,103.55 593.73,103.65 594.74,104.07 595.74,104.70 596.74,105.24 597.74,105.20 598.74,105.08 599.74,105.78 600.74,105.99 601.75,105.47 602.75,105.94 603.75,106.24 604.75,105.98 605.75,106.77 606.75,106.76 607.75,106.74 608.75,106.37 609.76,107.15 610.76,107.60 611.76,107.35 612.76,107.14 613.76,106.74"/>
<polyline fill="none" stroke="#3a3a3a" stroke-width="0.7" points="408.20,137.30 408.35,136.64 408.64,135.58 408.94,134.77 409.23,134.15 409.53,133.67 409.82,133.27 410.11,132.95 410.41,132.67 410.70,132.43 411.00,132.22 411.29,132.02 411.59,131.84 411.88,131.66 413.65,130.72 415.42,129.83 417.18,128.97 418.95,128.12 420.72,127.28 422.48,126.45 424.25,125.64 426.02,124.85 427.78,124.06 429.55,123.29 431.32,122.53 433.09,121.79 434.85,121.05 436.62,120.33 438.39,119.62 440.15,118.93 441.92,118.24 443.69,117.56 445.45,116.90 447.22,116.24 448.99,115.60 450.76,114.97 452.52,114.35 454.29,113.74 456.06,113.13 457.82,112.54 459.59,111.96 461.36,111.39 463.12,110.82 464.89,110.27 466.66,109.72 468.43,109.19 470.19,108.66 471.96,108.14 473.73,107.63 475.49,107.13 477.26,106.63 479.03,106.15 480.79,105.67 482.56,105.20 484.33,104.74 486.10,104.28 487.86,103.84 489.63,103.40 491.40,102.96 493.16,102.54 494.93,102.12 496.70,101.71 498.46,101.30 500.23,100.90 502.00,100.51 503.77,100.13 505.53,99.75 507.30,99.37 507.89,99.25 508.48,99.13 509.07,99.01 509.66,98.89 510.24,98.77 510.83,98.65 511.42,98.53 512.01,98.41 512.60,98.29 513.19,98.37 513.78,98.99 514.37,99.50 514.96,99.93 515.55,100.30 516.13,100.61 516.72,100.88 517.31,101.12 517.90,101.32 518.49,101.50 519.08,101.66 519.67,101.80 520.26,101.93 522.02,102.26 523.79,102.54 525.56,102.78 527.33,103.01 529.09,103.23 530.86,103.44 532.63,103.64 534.39,103.84 536.16,104.05 537.93,104.25 539.69,104.44 541.46,104.64 543.23,104.84 545.00,105.03 546.76,105.22 548.53,105.41 550.30,105.61 552.06,105.80 553.83,105.98 555.60,106.17 557.36,106.36 559.13,106.54 560.90,106.73 562.67,106.91 564.43,107.09 566.20,107.27 567.97,107.45 569.73,107.63 571.50,107.81 573.27,107.98 575.03,108.16 576.80,108.33 578.57,108.51 580.34,108.68 582.10,108.85 583.87,109.02 585.64,109.19 587.40,109.36 589.17,109.52 590.94,109.69 592.70,109.86 594.47,110.02 596.24,110.18 598.01,110.35 599.77,110.51 601.54,110.67 603.31,110.83 605.07,110.99 606.84,111.14 608.61,111.30 610.37,111.45 612.14,111.61 613.91,111.76"/>
<polyline fill="none" stroke="#6a6a6a" stroke-width="0.75" points="408.20,137.30 408.23,133.92 408.79,132.71 409.79,132.37 410.79,131.94 411.79,131.19 412.79,130.26 413.80,130.12 414.80,129.98 415.80,129.36 416.80,128.87 417.80,128.86 418.80,128.06 419.80,127.12 420.80,126.68 421.81,125.90 422.81,125.85 423.81,125.12 424.81,124.77 425.81,124.51 426.81,124.58 427.81,124.09 428.81,123.45 429.82,122.83 430.82,122.14 431.82,121.55 432.82,121.06 433.82,120.80 434.82,120.50 435.82,120.05 436.83,120.16 437.83,119.39 438.83,119.49 439.83,119.10 440.83,119.26 441.83,118.14 442.83,117.76 443.83,117.12 444.84,116.73 445.84,116.22 446.84,115.77 447.84,115.34 448.84,114.71 449.84,114.92 450.84,114.39 451.84,114.05 452.85,113.84 453.85,113.79 454.85,113.11 455.85,112.86 456.85,112.37 457.85,112.29 458.85,112.07 459.86,111.81 460.86,111.72 461.86,110.48 462.86,110.41 463.86,109.61 464.86,109.19 465.86,109.08 466.86,109.15 467.87,108.59 468.87,108.12 469.87,108.26 470.87,107.56 471.87,107.11 472.87,107.13 473.87,107.02 474.87,106.41 475.88,106.43 476.88,106.73 477.88,106.59 478.88,106.31 479.88,106.23 480.88,105.25 481.88,105.09 482.89,104.81 483.89,104.74 484.89,104.30 485.89,104.09 486.89,103.91 487.89,103.63 488.89,103.19 489.89,103.87 490.90,103.27 491.90,103.20 492.90,102.86 493.90,102.35 494.90,102.09 495.90,102.14 496.90,101.30 497.90,100.53 498.91,100.43 499.91,100.35 500.91,100.16 501.91,100.01 502.91,99.49 503.91,99.69 504.91,99.24 505.92,98.89 506.92,98.73 507.92,98.28 508.92,98.30 509.92,98.34 510.92,98.16 511.22,98.29 511.51,97.44 511.81,97.73 512.10,98.13 512.39,97.76 512.69,97.67 512.98,97.93 513.28,99.95 513.57,101.68 513.87,102.51 514.16,102.89 514.46,103.19 514.75,102.96 515.04,102.84 515.34,102.72 515.63,103.01 516.63,102.57 517.64,103.11 518.64,102.85 519.64,103.11 520.64,102.64 521.64,102.86 522.64,102.91 523.64,103.23 524.65,103.32 525.65,103.81 526.65,102.87 527.65,103.38 528.65,103.54 529.65,103.43 530.65,103.76 531.65,103.62 532.66,104.02 533.66,103.77 534.66,103.94 535.66,104.09 536.66,104.49 537.66,104.67 538.66,105.36 539.66,104.94 540.67,104.96 541.67,105.30 542.67,104.85 543.67,105.06 544.67,104.90 545.67,105.33 546.67,105.42 547.68,105.49 548.68,105.09 549.68,105.83 550.68,105.86 551.68,106.06 552.68,106.51 553.68,106.54 554.68,106.68 555.69,107.14 556.69,107.17 557.69,107.42 558.69,108.33 559.69,108.26 560.69,108.18 561.69,108.24 562.69,107.82 563.70,107.59 564.70,107.96 565.70,107.82 566.70,108.38 567.70,108.35 568.70,108.17 569.70,108.35 570.71,108.69 571.71,108.84 572.71,109.37 573.71,109.45 574.71,109.13 575.71,108.89 576.71,109.02 577.71,109.17 578.72,109.22 579.72,109.66 580.72,110.13 581.72,110.07 582.72,110.01 583.72,110.12 584.72,110.21 585.72,110.21 586.73,110.46 587.73,110.25 588.73,110.05 589.73,110.15 590.73,110.73 591.73,110.60 592.73,110.39 593.73,110.67 594.74,111.27 595.74,111.33 596.74,110.58 597.74,111.07 598.74,110.88 599.74,111.06 600.74,110.82 601.75,110.39 602.75,110.43 603.75,110.62 604.75,110.98 605.75,111.64 606.75,112.32 607.75,111.82 608.75,112.06 609.76,111.75 610.76,111.85 611.76,112.18 612.76,112.51 613.76,112.26"/>
<polyline fill="none" stroke="#444" stroke-width="0.7" points="408.20,137.30 408.35,136.82 408.64,136.06 408.94,135.48 409.23,135.03 409.53,134.69 409.82,134.41 410.11,134.18 410.41,133.98 410.70,133.81 411.00,133.66 411.29,133.53 411.59,133.40 411.88,133.28 413.65,132.63 415.42,132.02 417.18,131.42 418.95,130.83 420.72,130.25 422.48,129.68 424.25,129.12 426.02,128.57 427.78,128.02 429.55,127.48 431.32,126.95 433.09,126.43 434.85,125.92 436.62,125.41 438.39,124.91 440.15,124.42 441.92,123.94 443.69,123.46 445.45,122.99 447.22,122.53 448.99,122.07 450.76,121.62 452.52,121.18 454.29,120.75 456.06,120.32 457.82,119.89 459.59,119.48 461.36,119.07 463.12,118.66 464.89,118.27 466.66,117.87 468.43,117.49 470.19,117.11 471.96,116.73 473.73,116.36 475.49,116.00 477.26,115.64 479.03,115.29 480.79,114.94 482.56,114.60 484.33,114.26 486.10,113.93 487.86,113.60 489.63,113.28 491.40,112.96 493.16,112.64 494.93,112.34 496.70,112.03 498.46,111.73 500.23,111.44 502.00,111.15 503.77,110.86 505.53,110.58 507.30,110.30 507.89,110.21 508.48,110.12 509.07,110.03 509.66,109.94 510.24,109.85 510.83,109.76 511.42,109.67 512.01,109.58 512.60,109.49 513.19,109.52 513.78,109.86 514.37,110.14 514.96,110.39 515.55,110.59 516.13,110.77 516.72,110.93 517.31,111.06 517.90,111.18 518.49,111.29 519.08,111.39 519.67,111.48 520.26,111.56 522.02,111.77 523.79,111.95 525.56,112.11 527.33,112.27 529.09,112.41 530.86,112.56 532.63,112.70 534.39,112.84 536.16,112.98 537.93,113.12 539.69,113.26 541.46,113.39 543.23,113.53 545.00,113.66 546.76,113.80 548.53,113.93 550.30,114.07 552.06,114.20 553.83,114.33 555.60,114.46 557.36,114.59 559.13,114.72 560.90,114.85 562.67,114.97 564.43,115.10 566.20,115.23 567.97,115.35 569.73,115.48 571.50,115.60 573.27,115.72 575.03,115.85 576.80,115.97 578.57,116.09 580.34,116.21 582.10,116.33 583.87,116.45 585.64,116.57 587.40,116.69 589.17,116.80 590.94,116.92 592.70,117.04 594.47,117.15 596.24,117.27 598.01,117.38 599.77,117.49 601.54,117.61 603.31,117.72 605.07,117.83 606.84,117.94 608.61,118.05 610.37,118.16 612.14,118.27 613.91,118.38"/>
<polyline fill="none" stroke="#6a6a6a" stroke-width="0.75" points="408.20,137.30 408.23,134.84 408.79,134.34 409.79,133.96 410.79,133.59 411.79,133.09 412.79,132.43 413.80,131.92 414.80,131.12 415.80,130.30 416.80,130.18 417.80,129.76 418.80,129.48 419.80,129.72 420.80,129.44 421.81,128.59 422.81,128.60 423.81,128.54 424.81,128.36 425.81,128.15 426.81,127.82 427.81,126.88 428.81,127.22 429.82,126.63 430.82,126.27 431.82,125.85 432.82,125.17 433.82,124.88 434.82,124.77 435.82,124.60 436.83,123.89 437.83,123.65 438.83,124.11 439.83,123.80 440.83,123.15 441.83,122.87 442.83,122.36 443.83,121.94 444.84,122.16 445.84,122.21 446.84,121.82 447.84,120.90 448.84,120.75 449.84,120.59 450.84,120.52 451.84,120.48 452.85,119.98 453.85,119.71 454.85,119.93 455.85,120.15 456.85,119.81 457.85,119.58 458.85,119.58 459.86,119.61 460.86,118.81 461.86,118.17 462.86,117.98 463.86,117.52 464.86,116.89 465.86,116.84 466.86,117.35 467.87,117.13 468.87,117.02 469.87,116.69 470.87,116.38 471.87,115.92 472.87,115.57 473.87,115.49 474.87,115.10 475.88,114.84 476.88,114.48 477.88,114.27 478.88,114.51 479.88,114.62 480.88,114.31 481.88,113.96 482.89,114.22 483.89,113.91 484.89,114.01 485.89,113.57 486.89,113.18 487.89,113.06 488.89,112.88 489.89,112.33 490.90,112.80 491.90,112.65 492.90,112.75 493.90,112.53 494.90,112.62 495.90,111.97 496.90,111.56 497.90,111.54 498.91,111.11 499.91,110.78 500.91,110.99 501.91,110.29 502.91,110.21 503.91,109.69 504.91,110.10 505.92,110.46 506.92,109.80 507.92,109.30 508.92,109.27 509.92,109.04 510.92,109.30 511.22,109.61 511.51,109.50 511.81,109.38 512.10,108.96 512.39,108.95 512.69,109.18 512.98,108.78 513.28,110.09 513.57,110.47 513.87,110.94 514.16,111.05 514.46,110.79 514.75,110.82 515.04,111.50 515.34,111.22 515.63,111.10 516.63,111.21 517.64,111.11 518.64,110.73 519.64,110.92 520.64,111.82 521.64,112.07 522.64,112.14 523.64,112.39 524.65,112.32 525.65,112.03 526.65,112.13 527.65,112.32 528.65,112.31 529.65,113.11 530.65,113.13 531.65,112.81 532.66,113.00 533.66,112.67 534.66,112.53 535.66,112.48 536.66,112.49 537.66,112.03 538.66,112.00 539.66,112.71 540.67,113.05 541.67,113.29 542.67,113.09 543.67,113.02 544.67,113.32 545.67,113.44 546.67,113.30 547.68,113.30 548.68,113.69 549.68,114.29 550.68,114.81 551.68,114.98 552.68,114.44 553.68,114.65 554.68,114.71 555.69,114.12 556.69,114.10 557.69,114.62 558.69,114.66 559.69,114.46 560.69,114.82 561.69,115.17 562.69,115.21 563.70,115.27 564.70,115.54 565.70,116.00 566.70,115.82 567.70,115.91 568.70,115.96 569.70,115.80 570.71,115.41 571.71,115.56 572.71,115.81 573.71,115.73 574.71,115.84 575.71,115.88 576.71,115.87 577.71,116.36 578.72,116.25 579.72,116.21 580.72,116.43 581.72,116.52 582.72,116.69 583.72,116.89 584.72,116.98 585.72,117.01 586.73,116.92 587.73,116.97 588.73,117.14 589.73,117.12 590.73,117.40 591.73,117.70 592.73,117.83 593.73,118.29 594.74,118.04 595.74,117.71 596.74,117.79 597.74,118.05 598.74,117.47 599.74,117.35 600.74,117.25 601.75,118.07 602.75,117.65 603.75,117.46 604.75,117.32 605.75,117.51 606.75,118.13 607.75,117.49 608.75,117.70 609.76,118.08 610.76,117.66 611.76,118.03 612.76,118.41 613.76,118.24"/>
<polyline fill="none" stroke="#555" stroke-width="0.7" points="408.20,137.30 408.35,137.12 408.64,136.84 408.94,136.62 409.23,136.46 409.53,136.33 409.82,136.23 410.11,136.15 410.41,136.08 410.70,136.02 411.00,135.96 411.29,135.91 411.59,135.87 411.88,135.83 413.65,135.59 415.42,135.37 417.18,135.15 418.95,134.94 420.72,134.72 422.48,134.51 424.25,134.29 426.02,134.08 427.78,133.86 429.55,133.65 431.32,133.44 433.09,133.22 434.85,133.01 436.62,132.80 438.39,132.59 440.15,132.38 441.92,132.17 443.69,131.97 445.45,131.76 447.22,131.55 448.99,131.34 450.76,131.14 452.52,130.93 454.29,130.73 456.06,130.53 457.82,130.32 459.59,130.12 461.36,129.92 463.12,129.72 464.89,129.51 466.66,129.31 468.43,129.12 470.19,128.92 471.96,128.72 473.73,128.52 475.49,128.32 477.26,128.13 479.03,127.93 480.79,127.73 482.56,127.54 484.33,127.35 486.10,127.15 487.86,126.96 489.63,126.77 491.40,126.57 493.16,126.38 494.93,126.19 496.70,126.00 498.46,125.81 500.23,125.62 502.00,125.43 503.77,125.25 505.53,125.06 507.30,124.87 507.89,124.81 508.48,124.75 509.07,124.69 509.66,124.62 510.24,124.56 510.83,124.50 511.42,124.44 512.01,124.38 512.60,124.31 513.19,124.29 513.78,124.38 514.37,124.46 514.96,124.52 515.55,124.58 516.13,124.63 516.72,124.67 517.31,124.71 517.90,124.75 518.49,124.78 519.08,124.81 519.67,124.84 520.26,124.87 522.02,124.95 523.79,125.01 525.56,125.08 527.33,125.14 529.09,125.20 530.86,125.26 532.63,125.31 534.39,125.37 536.16,125.43 537.93,125.49 539.69,125.54 541.46,125.60 543.23,125.65 545.00,125.71 546.76,125.77 548.53,125.82 550.30,125.88 552.06,125.93 553.83,125.98 555.60,126.04 557.36,126.09 559.13,126.15 560.90,126.20 562.67,126.25 564.43,126.31 566.20,126.36 567.97,126.41 569.73,126.46 571.50,126.52 573.27,126.57 575.03,126.62 576.80,126.67 578.57,126.72 580.34,126.77 582.10,126.82 583.87,126.87 585.64,126.92 587.40,126.97 589.17,127.02 590.94,127.07 592.70,127.12 594.47,127.17 596.24,127.22 598.01,127.26 599.77,127.31 601.54,127.36 603.31,127.41 605.07,127.46 606.84,127.50 608.61,127.55 610.37,127.60 612.14,127.64 613.91,127.69"/>
<polyline fill="none" stroke="#6a6a6a" stroke-width="0.75" points="408.20,137.30 408.23,136.38 408.79,136.40 409.79,136.35 410.79,135.76 411.79,135.94 412.79,135.69 413.80,135.74 414.80,135.71 415.80,135.23 416.80,134.74 417.80,134.16 418.80,134.08 419.80,133.92 420.80,134.28 421.81,133.84 422.81,133.67 423.81,133.70 424.81,133.57 425.81,133.28 426.81,132.63 427.81,132.59 428.81,132.77 429.82,132.58 430.82,132.86 431.82,132.99 432.82,132.61 433.82,132.48 434.82,132.20 435.82,131.81 436.83,131.80 437.83,132.11 438.83,132.17 439.83,132.24 440.83,132.04 441.83,131.97 442.83,131.43 443.83,131.54 444.84,131.17 445.84,131.08 446.84,131.23 447.84,131.10 448.84,131.02 449.84,130.89 450.84,130.30 451.84,130.22 452.85,130.11 453.85,129.68 454.85,129.68 455.85,129.49 456.85,129.36 457.85,129.77 458.85,129.52 459.86,129.73 460.86,129.54 461.86,129.02 462.86,128.94 463.86,128.88 464.86,129.15 465.86,128.86 466.86,129.04 467.87,128.97 468.87,129.23 469.87,129.00 470.87,128.79 471.87,128.08 472.87,128.47 473.87,128.26 474.87,128.03 475.88,127.96 476.88,127.74 477.88,127.70 478.88,127.50 479.88,127.40 480.88,127.28 481.88,127.35 482.89,127.13 483.89,127.05 484.89,127.15 485.89,126.70 486.89,126.13 487.89,125.89 488.89,126.17 489.89,126.09 490.90,125.83 491.90,126.05 492.90,125.90 493.90,125.59 494.90,125.53 495.90,125.47 496.90,125.77 497.90,125.42 498.91,125.60 499.91,125.42 500.91,125.74 501.91,125.16 502.91,125.25 503.91,125.37 504.91,124.99 505.92,125.09 506.92,125.28 507.92,125.07 508.92,125.06 509.92,124.72 510.92,124.32 511.22,124.26 511.51,123.87 511.81,123.89 512.10,124.06 512.39,124.45 512.69,124.41 512.98,123.98 513.28,124.38 513.57,124.63 513.87,124.78 514.16,124.65 514.46,124.53 514.75,124.46 515.04,124.53 515.34,124.69 515.63,124.67 516.63,124.45 517.64,124.57 518.64,124.26 519.64,124.56 520.64,124.91 521.64,124.50 522.64,124.53 523.64,124.62 524.65,124.68 525.65,124.80 526.65,125.21 527.65,125.45 528.65,125.81 529.65,125.63 530.65,126.05 531.65,125.73 532.66,125.87 533.66,125.94 534.66,125.71 535.66,125.45 536.66,125.87 537.66,125.64 538.66,125.61 539.66,125.43 540.67,125.45 541.67,125.59 542.67,125.78 543.67,125.81 544.67,125.96 545.67,126.19 546.67,125.80 547.68,125.61 548.68,125.85 549.68,125.77 550.68,125.57 551.68,125.99 552.68,126.12 553.68,125.79 554.68,125.67 555.69,125.59 556.69,125.45 557.69,125.47 558.69,125.38 559.69,125.75 560.69,125.62 561.69,125.72 562.69,126.11 563.70,126.12 564.70,126.08 565.70,126.02 566.70,126.20 567.70,126.24 568.70,126.38 569.70,126.57 570.71,126.59 571.71,126.49 572.71,126.69 573.71,126.18 574.71,126.33 575.71,126.32 576.71,126.73 577.71,126.29 578.72,126.23 579.72,126.27 580.72,126.32 581.72,126.13 582.72,126.42 583.72,126.52 584.72,126.49 585.72,126.76 586.73,126.92 587.73,127.17 588.73,127.09 589.73,127.14 590.73,127.11 591.73,126.93 592.73,127.02 593.73,126.65 594.74,127.00 595.74,127.06 596.74,127.55 597.74,127.50 598.74,127.68 599.74,127.70 600.74,127.79 601.75,127.95 602.75,128.02 603.75,127.74 604.75,127.51 605.75,127.33 606.75,127.24 607.75,127.45 608.75,127.68 609.76,127.43 610.76,127.60 611.76,127.69 612.76,128.03 613.76,127.83"/>
<polyline fill="none" stroke="#666" stroke-width="0.7" points="408.20,137.30 408.35,137.21 408.64,137.07 408.94,136.97 409.23,136.88 409.53,136.82 409.82,136.77 410.11,136.73 410.41,136.70 410.70,136.67 411.00,136.64 411.29,136.62 411.59,136.60 411.88,136.58 413.65,136.47 415.42,136.36 417.18,136.26 418.95,136.16 420.72,136.06 422.48,135.96 424.25,135.85 426.02,135.75 427.78,135.65 429.55,135.55 431.32,135.45 433.09,135.35 434.85,135.25 436.62,135.16 438.39,135.06 440.15,134.96 441.92,134.86 443.69,134.76 445.45,134.66 447.22,134.57 448.99,134.47 450.76,134.37 452.52,134.28 454.29,134.18 456.06,134.09 457.82,133.99 459.59,133.90 461.36,133.80 463.12,133.71 464.89,133.61 466.66,133.52 468.43,133.42 470.19,133.33 471.96,133.24 473.73,133.14 475.49,133.05 477.26,132.96 479.03,132.87 480.79,132.77 482.56,132.68 484.33,132.59 486.10,132.50 487.86,132.41 489.63,132.32 491.40,132.23 493.16,132.14 494.93,132.05 496.70,131.96 498.46,131.87 500.23,131.78 502.00,131.69 503.77,131.61 505.53,131.52 507.30,131.43 507.89,131.40 508.48,131.37 509.07,131.34 509.66,131.31 510.24,131.28 510.83,131.25 511.42,131.23 512.01,131.20 512.60,131.17 513.19,130.06 513.78,130.07 514.37,130.08 514.96,130.08 515.55,130.09 516.13,130.10 516.72,130.11 517.31,130.11 517.90,130.12 518.49,130.13 519.08,130.14 519.67,130.14 520.26,130.15 522.02,130.17 523.79,130.19 525.56,130.21 527.33,130.24 529.09,130.26 530.86,130.28 532.63,130.30 534.39,130.32 536.16,130.34 537.93,130.36 539.69,130.39 541.46,130.41 543.23,130.43 545.00,130.45 546.76,130.47 548.53,130.49 550.30,130.51 552.06,130.53 553.83,130.55 555.60,130.57 557.36,130.59 559.13,130.61 560.90,130.63 562.67,130.65 564.43,130.67 566.20,130.69 567.97,130.71 569.73,130.73 571.50,130.75 573.27,130.77 575.03,130.79 576.80,130.81 578.57,130.83 580.34,130.85 582.10,130.87 583.87,130.89 585.64,130.91 587.40,130.93 589.17,130.94 590.94,130.96 592.70,130.98 594.47,131.00 596.24,131.02 598.01,131.04 599.77,131.06 601.54,131.08 603.31,131.09 605.07,131.11 606.84,131.13 608.61,131.15 610.37,131.17 612.14,131.19 613.91,131.20"/>
<polyline fill="none" stroke="#6a6a6a" stroke-width="0.75" points="408.20,137.30 408.23,136.84 408.79,136.63 409.79,136.58 410.79,136.54 411.79,136.94 412.79,136.73 413.80,136.59 414.80,136.63 415.80,136.64 416.80,136.55 417.80,136.49 418.80,136.50 419.80,136.35 420.80,136.40 421.81,136.02 422.81,136.37 423.81,136.26 424.81,135.99 425.81,136.15 426.81,135.96 427.81,135.98 428.81,136.05 429.82,135.89 430.82,135.86 431.82,135.82 432.82,135.57 433.82,135.64 434.82,135.45 435.82,135.86 436.83,135.51 437.83,135.49 438.83,134.97 439.83,135.52 440.83,135.16 441.83,134.87 442.83,134.91 443.83,135.11 444.84,135.06 445.84,134.86 446.84,135.22 447.84,134.83 448.84,134.90 449.84,134.73 450.84,134.84 451.84,134.89 452.85,134.94 453.85,134.94 454.85,134.80 455.85,134.62 456.85,134.41 457.85,134.62 458.85,134.49 459.86,134.16 460.86,134.34 461.86,134.37 462.86,133.99 463.86,134.17 464.86,134.16 465.86,133.90 466.86,133.96 467.87,133.98 468.87,133.85 469.87,133.82 470.87,133.93 471.87,133.83 472.87,133.81 473.87,133.73 474.87,133.56 475.88,132.92 476.88,132.99 477.88,133.20 478.88,133.25 479.88,133.22 480.88,133.11 481.88,133.02 482.89,132.85 483.89,132.91 484.89,132.92 485.89,132.85 486.89,132.35 487.89,132.06 488.89,132.27 489.89,132.83 490.90,132.62 491.90,132.93 492.90,132.85 493.90,132.66 494.90,132.63 495.90,132.52 496.90,132.36 497.90,132.08 498.91,132.18 499.91,132.21 500.91,132.35 501.91,131.95 502.91,131.82 503.91,132.16 504.91,132.19 505.92,132.59 506.92,132.63 507.92,132.53 508.92,132.52 509.92,132.43 510.92,132.13 511.22,132.04 511.51,132.10 511.81,132.02 512.10,131.85 512.39,131.78 512.69,132.14 512.98,131.87 513.28,130.42 513.57,130.40 513.87,130.42 514.16,130.69 514.46,130.71 514.75,130.47 515.04,130.58 515.34,130.29 515.63,130.11 516.63,130.48 517.64,130.52 518.64,130.41 519.64,130.17 520.64,130.24 521.64,130.31 522.64,130.35 523.64,130.44 524.65,130.33 525.65,130.31 526.65,130.09 527.65,130.36 528.65,130.50 529.65,130.54 530.65,130.69 531.65,130.58 532.66,130.64 533.66,130.90 534.66,131.01 535.66,130.94 536.66,131.10 537.66,130.80 538.66,130.97 539.66,130.93 540.67,130.95 541.67,130.80 542.67,130.57 543.67,130.70 544.67,130.73 545.67,130.74 546.67,130.93 547.68,131.12 548.68,131.00 549.68,130.85 550.68,130.98 551.68,131.18 552.68,131.19 553.68,131.19 554.68,131.24 555.69,131.18 556.69,130.87 557.69,131.10 558.69,131.20 559.69,130.97 560.69,130.79 561.69,130.93 562.69,130.97 563.70,130.58 564.70,130.39 565.70,130.29 566.70,130.42 567.70,130.56 568.70,130.60 569.70,130.70 570.71,130.65 571.71,131.08 572.71,130.80 573.71,130.68 574.71,130.67 575.71,130.84 576.71,131.15 577.71,130.97 578.72,130.96 579.72,131.06 580.72,130.64 581.72,130.89 582.72,130.87 583.72,131.15 584.72,131.10 585.72,130.92 586.73,130.72 587.73,130.86 588.73,131.14 589.73,131.46 590.73,131.46 591.73,131.11 592.73,131.19 593.73,130.95 594.74,130.94 595.74,131.08 596.74,131.26 597.74,131.31 598.74,131.45 599.74,131.59 600.74,131.68 601.75,131.78 602.75,132.03 603.75,131.91 604.75,132.04 605.75,131.88 606.75,131.86 607.75,131.92 608.75,131.94 609.76,131.46 610.76,131.29 611.76,131.25 612.76,131.03 613.76,131.42"/>
<polyline fill="none" stroke="#777" stroke-width="0.7" points="408.20,137.30 408.35,137.27 408.64,137.22 408.94,137.19 409.23,137.16 409.53,137.14 409.82,137.12 410.11,137.11 410.41,137.10 410.70,137.09 411.00,137.08 411.29,137.07 411.59,137.06 411.88,137.05 413.65,137.02 415.42,136.98 417.18,136.94 418.95,136.91 420.72,136.87 422.48,136.83 424.25,136.80 426.02,136.76 427.78,136.73 429.55,136.69 431.32,136.66 433.09,136.62 434.85,136.59 436.62,136.55 438.39,136.52 440.15,136.48 441.92,136.45 443.69,136.41 445.45,136.38 447.22,136.34 448.99,136.31 450.76,136.27 452.52,136.24 454.29,136.20 456.06,136.17 457.82,136.14 459.59,136.10 461.36,136.07 463.12,136.04 464.89,136.00 466.66,135.97 468.43,135.94 470.19,135.90 471.96,135.87 473.73,135.84 475.49,135.80 477.26,135.77 479.03,135.74 480.79,135.71 482.56,135.67 484.33,135.64 486.10,135.61 487.86,135.58 489.63,135.54 491.40,135.51 493.16,135.48 494.93,135.45 496.70,135.42 498.46,135.39 500.23,135.35 502.00,135.32 503.77,135.29 505.53,135.26 507.30,135.23 507.89,135.22 508.48,135.21 509.07,135.20 509.66,135.19 510.24,135.18 510.83,135.17 511.42,135.16 512.01,135.15 512.60,135.14 513.19,134.59 513.78,134.59 514.37,134.59 514.96,134.59 515.55,134.59 516.13,134.59 516.72,134.59 517.31,134.59 517.90,134.59 518.49,134.59 519.08,134.59 519.67,134.59 520.26,134.59 522.02,134.59 523.79,134.59 525.56,134.59 527.33,134.59 529.09,134.59 530.86,134.59 532.63,134.59 534.39,134.59 536.16,134.59 537.93,134.59 539.69,134.59 541.46,134.59 543.23,134.59 545.00,134.59 546.76,134.59 548.53,134.59 550.30,134.59 552.06,134.59 553.83,134.59 555.60,134.59 557.36,134.59 559.13,134.59 560.90,134.59 562.67,134.59 564.43,134.59 566.20,134.59 567.97,134.59 569.73,134.59 571.50,134.59 573.27,134.59 575.03,134.59 576.80,134.59 578.57,134.59 580.34,134.59 582.10,134.59 583.87,134.59 585.64,134.59 587.40,134.59 589.17,134.59 590.94,134.59 592.70,134.59 594.47,134.59 596.24,134.59 598.01,134.59 599.77,134.59 601.54,134.59 603.31,134.59 605.07,134.59 606.84,134.59 608.61,134.59 610.37,134.59 612.14,134.59 613.91,134.59"/>
<polyline fill="none" stroke="#6a6a6a" stroke-width="0.75" points="408.20,137.30 408.23,137.15 408.79,137.15 409.79,137.11 410.79,137.29 411.79,137.03 412.79,137.10 413.80,137.59 414.80,137.67 415.80,137.62 416.80,137.18 417.80,137.04 418.80,137.02 419.80,136.94 420.80,137.18 421.81,137.42 422.81,137.35 423.81,137.15 424.81,137.14 425.81,137.30 426.81,137.15 427.81,137.19 428.81,137.52 429.82,137.20 430.82,137.41 431.82,137.04 432.82,136.87 433.82,136.43 434.82,136.71 435.82,136.68 436.83,136.83 437.83,136.74 438.83,136.92 439.83,136.96 440.83,137.08 441.83,136.75 442.83,136.90 443.83,136.59 444.84,136.60 445.84,136.83 446.84,136.72 447.84,136.70 448.84,136.65 449.84,136.43 450.84,136.46 451.84,136.49 452.85,136.45 453.85,136.26 454.85,135.88 455.85,136.01 456.85,135.92 457.85,135.96 458.85,136.16 459.86,136.30 460.86,136.49 461.86,136.25 462.86,136.36 463.86,136.38 464.86,136.20 465.86,136.19 466.86,136.17 467.87,136.08 468.87,136.01 469.87,136.15 470.87,135.84 471.87,135.73 472.87,135.87 473.87,135.91 474.87,135.78 475.88,135.97 476.88,136.13 477.88,135.92 478.88,135.77 479.88,135.82 480.88,135.74 481.88,135.76 482.89,135.88 483.89,136.17 484.89,135.97 485.89,136.30 486.89,136.29 487.89,136.35 488.89,135.80 489.89,135.42 490.90,135.40 491.90,135.50 492.90,135.55 493.90,135.63 494.90,135.09 495.90,135.31 496.90,135.70 497.90,135.68 498.91,135.69 499.91,135.75 500.91,135.52 501.91,135.20 502.91,135.52 503.91,135.21 504.91,134.85 505.92,135.18 506.92,135.32 507.92,135.20 508.92,135.18 509.92,135.46 510.92,135.49 511.22,135.66 511.51,135.20 511.81,135.43 512.10,135.42 512.39,135.41 512.69,135.57 512.98,135.49 513.28,134.77 513.57,134.72 513.87,134.10 514.16,134.43 514.46,134.67 514.75,134.82 515.04,135.05 515.34,135.16 515.63,135.08 516.63,134.98 517.64,134.89 518.64,134.72 519.64,134.60 520.64,134.36 521.64,134.45 522.64,134.60 523.64,134.52 524.65,134.67 525.65,134.49 526.65,134.47 527.65,134.19 528.65,134.41 529.65,134.49 530.65,134.22 531.65,134.16 532.66,134.45 533.66,134.60 534.66,134.65 535.66,134.74 536.66,134.41 537.66,134.78 538.66,134.81 539.66,134.85 540.67,135.14 541.67,134.89 542.67,134.96 543.67,134.99 544.67,134.92 545.67,134.82 546.67,134.92 547.68,134.90 548.68,135.24 549.68,134.99 550.68,134.76 551.68,134.88 552.68,134.83 553.68,134.91 554.68,134.52 555.69,134.71 556.69,135.11 557.69,134.98 558.69,135.08 559.69,134.50 560.69,134.75 561.69,134.38 562.69,134.25 563.70,134.75 564.70,134.76 565.70,134.84 566.70,134.87 567.70,134.58 568.70,134.39 569.70,134.63 570.71,134.50 571.71,134.53 572.71,134.65 573.71,134.58 574.71,134.60 575.71,134.42 576.71,134.61 577.71,134.54 578.72,134.98 579.72,134.69 580.72,134.96 581.72,135.09 582.72,134.97 583.72,134.94 584.72,134.83 585.72,134.87 586.73,134.75 587.73,134.46 588.73,134.53 589.73,134.85 590.73,135.12 591.73,134.99 592.73,135.04 593.73,134.92 594.74,134.86 595.74,134.75 596.74,134.31 597.74,134.32 598.74,134.27 599.74,134.44 600.74,134.65 601.75,134.60 602.75,134.60 603.75,134.85 604.75,134.65 605.75,134.34 606.75,134.39 607.75,134.51 608.75,134.70 609.76,134.68 610.76,134.82 611.76,134.94 612.76,134.94 613.76,134.75"/>
<line x1="637.2" y1="68.4" x2="644.4" y2="68.4" stroke="#ddd" stroke-width="1.1" />
<text x="645.0" y="70.30000000000001" font-size="5.4" fill="#444" text-anchor="start" font-weight="normal" textLength="9.5" lengthAdjust="spacingAndGlyphs" stroke="#444" stroke-width="0.22" >PD1</text>
<text x="657.1" y="70.30000000000001" font-size="5.4" fill="#444" text-anchor="start" font-weight="normal" textLength="15.5" lengthAdjust="spacingAndGlyphs" stroke="#444" stroke-width="0.22" >50 nM</text>
<line x1="637.2" y1="77.87" x2="644.4" y2="77.87" stroke="#ccc" stroke-width="1.1" />
<text x="645.0" y="79.77000000000001" font-size="5.4" fill="#444" text-anchor="start" font-weight="normal" textLength="9.5" lengthAdjust="spacingAndGlyphs" stroke="#444" stroke-width="0.22" >PD1</text>
<text x="657.1" y="79.77000000000001" font-size="5.4" fill="#444" text-anchor="start" font-weight="normal" textLength="18.6" lengthAdjust="spacingAndGlyphs" stroke="#444" stroke-width="0.22" >100 nM</text>
<line x1="637.2" y1="87.34" x2="644.4" y2="87.34" stroke="#bbb" stroke-width="1.1" />
<text x="645.0" y="89.24000000000001" font-size="5.4" fill="#444" text-anchor="start" font-weight="normal" textLength="9.5" lengthAdjust="spacingAndGlyphs" stroke="#444" stroke-width="0.22" >PD1</text>
<text x="657.1" y="89.24000000000001" font-size="5.4" fill="#444" text-anchor="start" font-weight="normal" textLength="18.6" lengthAdjust="spacingAndGlyphs" stroke="#444" stroke-width="0.22" >200 nM</text>
<line x1="637.2" y1="96.81" x2="644.4" y2="96.81" stroke="#999" stroke-width="1.1" />
<text x="645.0" y="98.71000000000001" font-size="5.4" fill="#444" text-anchor="start" font-weight="normal" textLength="9.5" lengthAdjust="spacingAndGlyphs" stroke="#444" stroke-width="0.22" >PD1</text>
<text x="657.1" y="98.71000000000001" font-size="5.4" fill="#444" text-anchor="start" font-weight="normal" textLength="18.6" lengthAdjust="spacingAndGlyphs" stroke="#444" stroke-width="0.22" >400 nM</text>
<line x1="637.2" y1="106.28" x2="644.4" y2="106.28" stroke="#888" stroke-width="1.1" />
<text x="645.0" y="108.18" font-size="5.4" fill="#444" text-anchor="start" font-weight="normal" textLength="9.5" lengthAdjust="spacingAndGlyphs" stroke="#444" stroke-width="0.22" >PD1</text>
<text x="657.1" y="108.18" font-size="5.4" fill="#444" text-anchor="start" font-weight="normal" textLength="18.6" lengthAdjust="spacingAndGlyphs" stroke="#444" stroke-width="0.22" >600 nM</text>
<line x1="637.2" y1="115.75" x2="644.4" y2="115.75" stroke="#666" stroke-width="1.1" />
<text x="645.0" y="117.65" font-size="5.4" fill="#444" text-anchor="start" font-weight="normal" textLength="9.5" lengthAdjust="spacingAndGlyphs" stroke="#444" stroke-width="0.22" >PD1</text>
<text x="657.1" y="117.65" font-size="5.4" fill="#444" text-anchor="start" font-weight="normal" textLength="18.6" lengthAdjust="spacingAndGlyphs" stroke="#444" stroke-width="0.22" >800 nM</text>
<line x1="637.2" y1="125.22000000000001" x2="644.4" y2="125.22000000000001" stroke="#444" stroke-width="1.1" />
<text x="645.0" y="127.12000000000002" font-size="5.4" fill="#444" text-anchor="start" font-weight="normal" textLength="9.5" lengthAdjust="spacingAndGlyphs" stroke="#444" stroke-width="0.22" >PD1</text>
<text x="657.1" y="127.12000000000002" font-size="5.4" fill="#444" text-anchor="start" font-weight="normal" textLength="21.7" lengthAdjust="spacingAndGlyphs" stroke="#444" stroke-width="0.22" >1500 nM</text>
<line x1="637.2" y1="134.69" x2="644.4" y2="134.69" stroke="#222" stroke-width="1.1" />
<text x="646.7" y="136.59" font-size="5.4" fill="#444" text-anchor="start" font-weight="normal" textLength="9.5" lengthAdjust="spacingAndGlyphs" stroke="#444" stroke-width="0.22" >PD1</text>
<text x="658.63" y="136.59" font-size="5.4" fill="#444" text-anchor="start" font-weight="normal" textLength="21.7" lengthAdjust="spacingAndGlyphs" stroke="#444" stroke-width="0.22" >2000 nM</text>
<line x1="378.4" y1="185.9" x2="378.4" y2="295.20000000000005" stroke="#444" stroke-width="0.9" />
<line x1="378.0" y1="294.70000000000005" x2="616" y2="294.70000000000005" stroke="#444" stroke-width="0.9" />
<line x1="375.8" y1="294.70000000000005" x2="378.4" y2="294.70000000000005" stroke="#444" stroke-width="0.9" />
<text x="372.0" y="297.20000000000005" font-size="7.0" fill="#222" text-anchor="end" font-weight="bold" textLength="3.35" lengthAdjust="spacingAndGlyphs" stroke="#222" stroke-width="0.2" >0</text>
<line x1="375.8" y1="276.6" x2="378.4" y2="276.6" stroke="#444" stroke-width="0.9" />
<text x="372.0" y="279.1" font-size="7.0" fill="#222" text-anchor="end" font-weight="bold" textLength="6.7" lengthAdjust="spacingAndGlyphs" stroke="#222" stroke-width="0.2" >50</text>
<line x1="375.8" y1="258.50000000000006" x2="378.4" y2="258.50000000000006" stroke="#444" stroke-width="0.9" />
<text x="372.0" y="261.00000000000006" font-size="7.0" fill="#222" text-anchor="end" font-weight="bold" textLength="10.05" lengthAdjust="spacingAndGlyphs" stroke="#222" stroke-width="0.2" >100</text>
<line x1="375.8" y1="240.40000000000003" x2="378.4" y2="240.40000000000003" stroke="#444" stroke-width="0.9" />
<text x="372.0" y="242.90000000000003" font-size="7.0" fill="#222" text-anchor="end" font-weight="bold" textLength="10.05" lengthAdjust="spacingAndGlyphs" stroke="#222" stroke-width="0.2" >150</text>
<line x1="375.8" y1="222.30000000000004" x2="378.4" y2="222.30000000000004" stroke="#444" stroke-width="0.9" />
<text x="372.0" y="224.80000000000004" font-size="7.0" fill="#222" text-anchor="end" font-weight="bold" textLength="10.05" lengthAdjust="spacingAndGlyphs" stroke="#222" stroke-width="0.2" >200</text>
<line x1="375.8" y1="204.20000000000005" x2="378.4" y2="204.20000000000005" stroke="#444" stroke-width="0.9" />
<text x="372.0" y="206.70000000000005" font-size="7.0" fill="#222" text-anchor="end" font-weight="bold" textLength="10.05" lengthAdjust="spacingAndGlyphs" stroke="#222" stroke-width="0.2" >250</text>
<line x1="375.8" y1="186.10000000000002" x2="378.4" y2="186.10000000000002" stroke="#444" stroke-width="0.9" />
<text x="372.0" y="188.60000000000002" font-size="7.0" fill="#222" text-anchor="end" font-weight="bold" textLength="10.05" lengthAdjust="spacingAndGlyphs" stroke="#222" stroke-width="0.2" >300</text>
<line x1="378.75" y1="294.70000000000005" x2="378.75" y2="296.90000000000003" stroke="#444" stroke-width="0.9" />
<text x="378.95" y="304.30000000000007" font-size="5.8" fill="#222" text-anchor="middle" font-weight="bold" textLength="8.25" lengthAdjust="spacingAndGlyphs" stroke="#222" stroke-width="0.2" >-50</text>
<line x1="408.2" y1="294.70000000000005" x2="408.2" y2="296.90000000000003" stroke="#444" stroke-width="0.9" />
<text x="408.4" y="304.30000000000007" font-size="5.8" fill="#222" text-anchor="middle" font-weight="bold" textLength="2.75" lengthAdjust="spacingAndGlyphs" stroke="#222" stroke-width="0.2" >0</text>
<line x1="437.65" y1="294.70000000000005" x2="437.65" y2="296.90000000000003" stroke="#444" stroke-width="0.9" />
<text x="437.84999999999997" y="304.30000000000007" font-size="5.8" fill="#222" text-anchor="middle" font-weight="bold" textLength="5.5" lengthAdjust="spacingAndGlyphs" stroke="#222" stroke-width="0.2" >50</text>
<line x1="467.09999999999997" y1="294.70000000000005" x2="467.09999999999997" y2="296.90000000000003" stroke="#444" stroke-width="0.9" />
<text x="467.29999999999995" y="304.30000000000007" font-size="5.8" fill="#222" text-anchor="middle" font-weight="bold" textLength="8.25" lengthAdjust="spacingAndGlyphs" stroke="#222" stroke-width="0.2" >100</text>
<line x1="496.54999999999995" y1="294.70000000000005" x2="496.54999999999995" y2="296.90000000000003" stroke="#444" stroke-width="0.9" />
<text x="496.74999999999994" y="304.30000000000007" font-size="5.8" fill="#222" text-anchor="middle" font-weight="bold" textLength="8.25" lengthAdjust="spacingAndGlyphs" stroke="#222" stroke-width="0.2" >150</text>
<line x1="526.0" y1="294.70000000000005" x2="526.0" y2="296.90000000000003" stroke="#444" stroke-width="0.9" />
<text x="526.2" y="304.30000000000007" font-size="5.8" fill="#222" text-anchor="middle" font-weight="bold" textLength="8.25" lengthAdjust="spacingAndGlyphs" stroke="#222" stroke-width="0.2" >200</text>
<line x1="555.45" y1="294.70000000000005" x2="555.45" y2="296.90000000000003" stroke="#444" stroke-width="0.9" />
<text x="555.6500000000001" y="304.30000000000007" font-size="5.8" fill="#222" text-anchor="middle" font-weight="bold" textLength="8.25" lengthAdjust="spacingAndGlyphs" stroke="#222" stroke-width="0.2" >250</text>
<line x1="584.9" y1="294.70000000000005" x2="584.9" y2="296.90000000000003" stroke="#444" stroke-width="0.9" />
<text x="585.1" y="304.30000000000007" font-size="5.8" fill="#222" text-anchor="middle" font-weight="bold" textLength="8.25" lengthAdjust="spacingAndGlyphs" stroke="#222" stroke-width="0.2" >300</text>
<line x1="614.3499999999999" y1="294.70000000000005" x2="614.3499999999999" y2="296.90000000000003" stroke="#444" stroke-width="0.9" />
<text x="614.55" y="304.30000000000007" font-size="5.8" fill="#222" text-anchor="middle" font-weight="bold" textLength="8.25" lengthAdjust="spacingAndGlyphs" stroke="#222" stroke-width="0.2" >350</text>
<text x="519.3" y="321.8" font-size="5.8" fill="#222" text-anchor="middle" font-weight="bold" textLength="19" lengthAdjust="spacingAndGlyphs" stroke="#222" stroke-width="0.2" >time (s)</text>
<text transform="translate(352.2,242.2) rotate(-90)" font-size="7.6" fill="#5a5a5a" stroke="#5a5a5a" stroke-width="0.15" text-anchor="middle" textLength="45" lengthAdjust="spacingAndGlyphs">Response (RU)</text>
<text x="416.5" y="201.3" font-size="8.6" fill="#111" text-anchor="start" font-weight="bold" textLength="14.4" lengthAdjust="spacingAndGlyphs" stroke="#111" stroke-width="0.2" >p34</text>
<polyline fill="none" stroke="#222" stroke-width="1" points="378.75,294.71 379.04,294.75 379.34,294.83 379.63,294.57 379.93,294.88 380.22,294.70 380.52,294.56 380.81,294.85 381.11,294.68 381.40,294.66 381.69,294.87 381.99,294.74 382.28,294.63 382.58,294.21 382.87,293.60 383.17,293.30 383.46,292.77 383.76,292.31 384.05,292.67 384.35,293.03 384.64,293.65 384.93,294.09 385.23,294.74 385.52,294.61 385.82,294.84 386.11,294.78 386.41,294.64 386.70,294.62 387.00,294.73 387.29,294.85 387.58,294.78 387.88,294.81 388.17,294.78 388.47,294.59 388.76,294.81 389.06,294.56 389.35,294.56 389.65,294.86 389.94,294.74 390.24,294.70 390.53,294.87 390.82,294.73 391.12,294.55 391.41,294.84 391.71,294.66 392.00,294.84 392.30,294.67 392.59,294.56 392.89,294.81 393.18,294.88 393.47,294.85 393.77,294.69 394.06,294.87 394.36,294.85 394.65,294.70 394.95,294.55 395.24,294.73 395.54,294.74 395.83,294.65 396.13,294.85 396.42,294.49 396.71,294.34 397.01,293.88 397.30,293.45 397.60,294.08 397.89,294.20 398.19,294.48 398.48,294.83 398.78,294.78 399.07,294.52 399.37,294.52 399.66,294.84 399.95,294.63 400.25,294.54 400.54,294.80 400.84,294.66 401.13,294.87 401.43,294.75 401.72,294.64 402.02,294.67 402.31,294.60 402.60,294.85 402.90,294.76 403.19,294.57 403.49,294.67 403.78,294.72 404.08,294.74 404.37,294.52 404.67,294.67 404.96,294.87 405.25,294.59 405.55,294.76 405.84,294.72 406.14,294.80 406.43,294.72 406.73,294.76 407.02,294.85 407.32,294.65 407.61,294.84 407.91,294.60 408.20,294.87"/>
<polyline fill="none" stroke="#222" stroke-width="0.7" points="408.20,294.70 408.35,291.69 408.64,286.87 408.94,283.27 409.23,280.55 409.53,278.45 409.82,276.80 410.11,275.48 410.41,274.39 410.70,273.47 411.00,272.67 411.29,271.95 411.59,271.30 411.88,270.70 413.65,267.56 415.42,264.72 417.18,262.02 418.95,259.41 420.72,256.90 422.48,254.47 424.25,252.13 426.02,249.88 427.78,247.70 429.55,245.60 431.32,243.57 433.09,241.62 434.85,239.74 436.62,237.92 438.39,236.16 440.15,234.47 441.92,232.84 443.69,231.26 445.45,229.75 447.22,228.28 448.99,226.87 450.76,225.50 452.52,224.19 454.29,222.92 456.06,221.70 457.82,220.52 459.59,219.38 461.36,218.28 463.12,217.22 464.89,216.20 466.66,215.21 468.43,214.26 470.19,213.34 471.96,212.46 473.73,211.61 475.49,210.78 477.26,209.99 479.03,209.22 480.79,208.48 482.56,207.77 484.33,207.08 486.10,206.42 487.86,205.78 489.63,205.16 491.40,204.56 493.16,203.99 494.93,203.44 496.70,202.90 498.46,202.39 500.23,201.89 502.00,201.41 503.77,200.94 505.53,200.50 507.30,200.07 507.89,199.93 508.48,199.79 509.07,199.65 509.66,199.52 510.24,199.38 510.83,199.25 511.42,199.12 512.01,198.99 512.60,198.86 513.19,199.40 513.78,201.73 514.37,203.80 514.96,205.65 515.55,207.29 516.13,208.76 516.72,210.08 517.31,211.25 517.90,212.31 518.49,213.26 519.08,214.11 519.67,214.88 520.26,215.57 522.02,217.30 523.79,218.61 525.56,219.65 527.33,220.49 529.09,221.19 530.86,221.81 532.63,222.35 534.39,222.86 536.16,223.33 537.93,223.78 539.69,224.21 541.46,224.63 543.23,225.04 545.00,225.45 546.76,225.85 548.53,226.25 550.30,226.64 552.06,227.03 553.83,227.41 555.60,227.80 557.36,228.18 559.13,228.56 560.90,228.93 562.67,229.31 564.43,229.68 566.20,230.05 567.97,230.42 569.73,230.78 571.50,231.15 573.27,231.51 575.03,231.87 576.80,232.22 578.57,232.58 580.34,232.93 582.10,233.28 583.87,233.63 585.64,233.98 587.40,234.32 589.17,234.67 590.94,235.01 592.70,235.35 594.47,235.68 596.24,236.02 598.01,236.35 599.77,236.69 601.54,237.01 603.31,237.34 605.07,237.67 606.84,237.99 608.61,238.32 610.37,238.64 612.14,238.95 613.91,239.27"/>
<polyline fill="none" stroke="#6a6a6a" stroke-width="0.75" points="408.20,294.70 408.23,278.70 408.79,274.70 409.79,274.00 410.79,272.98 411.79,271.01 412.79,269.17 413.80,266.58 414.80,265.48 415.80,263.80 416.80,261.85 417.80,260.69 418.80,260.10 419.80,257.88 420.80,257.16 421.81,255.22 422.81,253.56 423.81,251.62 424.81,250.76 425.81,249.66 426.81,248.40 427.81,247.56 428.81,245.17 429.82,245.06 430.82,244.28 431.82,243.43 432.82,242.17 433.82,241.18 434.82,240.89 435.82,239.43 436.83,238.09 437.83,237.44 438.83,236.22 439.83,234.99 440.83,234.24 441.83,233.44 442.83,233.57 443.83,232.99 444.84,231.57 445.84,230.60 446.84,230.18 447.84,230.27 448.84,230.12 449.84,228.31 450.84,227.10 451.84,225.71 452.85,225.08 453.85,225.65 454.85,225.11 455.85,224.29 456.85,222.94 457.85,222.19 458.85,221.33 459.86,220.24 460.86,219.15 461.86,218.53 462.86,218.36 463.86,218.04 464.86,217.50 465.86,216.71 466.86,216.99 467.87,216.79 468.87,216.06 469.87,215.14 470.87,214.26 471.87,214.31 472.87,213.91 473.87,213.66 474.87,212.24 475.88,212.21 476.88,212.65 477.88,212.44 478.88,213.13 479.88,212.70 480.88,211.34 481.88,210.62 482.89,210.71 483.89,210.39 484.89,210.07 485.89,210.44 486.89,209.17 487.89,208.30 488.89,208.63 489.89,208.05 490.90,207.83 491.90,207.60 492.90,207.63 493.90,207.49 494.90,206.74 495.90,206.64 496.90,205.86 497.90,206.34 498.91,206.63 499.91,206.79 500.91,205.42 501.91,204.85 502.91,205.12 503.91,205.18 504.91,204.82 505.92,204.22 506.92,203.56 507.92,202.62 508.92,202.44 509.92,202.17 510.92,202.44 511.22,201.92 511.51,202.10 511.81,202.12 512.10,202.03 512.39,202.48 512.69,202.32 512.98,202.04 513.28,204.60 513.57,207.39 513.87,207.87 514.16,210.03 514.46,211.37 514.75,212.75 515.04,213.85 515.34,214.18 515.63,214.70 516.63,216.23 517.64,216.78 518.64,216.92 519.64,216.39 520.64,216.08 521.64,216.24 522.64,216.99 523.64,217.56 524.65,218.59 525.65,219.34 526.65,219.53 527.65,219.92 528.65,220.30 529.65,220.38 530.65,219.84 531.65,219.94 532.66,219.73 533.66,220.05 534.66,220.48 535.66,220.09 536.66,220.02 537.66,220.23 538.66,220.66 539.66,220.76 540.67,221.88 541.67,222.18 542.67,222.31 543.67,222.71 544.67,222.56 545.67,222.49 546.67,224.28 547.68,224.08 548.68,225.33 549.68,224.26 550.68,224.93 551.68,223.84 552.68,224.93 553.68,224.76 554.68,224.81 555.69,225.14 556.69,224.75 557.69,225.69 558.69,225.95 559.69,225.94 560.69,226.71 561.69,226.79 562.69,226.60 563.70,227.60 564.70,227.54 565.70,228.23 566.70,228.52 567.70,228.35 568.70,227.99 569.70,228.40 570.71,228.34 571.71,228.94 572.71,229.21 573.71,229.56 574.71,230.42 575.71,229.91 576.71,229.49 577.71,230.08 578.72,229.79 579.72,230.79 580.72,231.45 581.72,230.81 582.72,231.58 583.72,231.48 584.72,230.98 585.72,231.34 586.73,231.51 587.73,232.33 588.73,232.63 589.73,232.41 590.73,232.93 591.73,232.72 592.73,233.46 593.73,232.85 594.74,232.63 595.74,233.13 596.74,232.79 597.74,233.14 598.74,233.48 599.74,233.68 600.74,234.08 601.75,234.18 602.75,234.22 603.75,233.76 604.75,233.70 605.75,233.50 606.75,234.17 607.75,235.56 608.75,235.12 609.76,235.77 610.76,236.04 611.76,236.45 612.76,237.08 613.76,237.20"/>
<polyline fill="none" stroke="#333" stroke-width="0.7" points="408.20,294.70 408.35,292.97 408.64,290.16 408.94,288.01 409.23,286.33 409.53,284.99 409.82,283.90 410.11,282.98 410.41,282.18 410.70,281.48 411.00,280.85 411.29,280.26 411.59,279.71 411.88,279.19 413.65,276.33 415.42,273.70 417.18,271.17 418.95,268.75 420.72,266.41 422.48,264.17 424.25,262.02 426.02,259.94 427.78,257.95 429.55,256.03 431.32,254.18 433.09,252.41 434.85,250.70 436.62,249.06 438.39,247.48 440.15,245.96 441.92,244.50 443.69,243.10 445.45,241.75 447.22,240.45 448.99,239.20 450.76,238.00 452.52,236.84 454.29,235.73 456.06,234.66 457.82,233.63 459.59,232.64 461.36,231.69 463.12,230.78 464.89,229.90 466.66,229.05 468.43,228.24 470.19,227.46 471.96,226.70 473.73,225.98 475.49,225.28 477.26,224.61 479.03,223.97 480.79,223.35 482.56,222.75 484.33,222.18 486.10,221.63 487.86,221.10 489.63,220.59 491.40,220.10 493.16,219.63 494.93,219.18 496.70,218.74 498.46,218.32 500.23,217.92 502.00,217.53 503.77,217.16 505.53,216.80 507.30,216.45 507.89,216.34 508.48,216.23 509.07,216.12 509.66,216.02 510.24,215.91 510.83,215.80 511.42,215.70 512.01,215.60 512.60,215.50 513.19,215.65 513.78,216.43 514.37,217.02 514.96,217.50 515.55,217.88 516.13,218.19 516.72,218.46 517.31,218.70 517.90,218.91 518.49,219.11 519.08,219.29 519.67,219.46 520.26,219.63 522.02,220.11 523.79,220.56 525.56,221.01 527.33,221.46 529.09,221.90 530.86,222.34 532.63,222.77 534.39,223.20 536.16,223.63 537.93,224.06 539.69,224.49 541.46,224.91 543.23,225.33 545.00,225.74 546.76,226.16 548.53,226.57 550.30,226.98 552.06,227.39 553.83,227.79 555.60,228.19 557.36,228.59 559.13,228.99 560.90,229.39 562.67,229.78 564.43,230.17 566.20,230.56 567.97,230.94 569.73,231.33 571.50,231.71 573.27,232.09 575.03,232.46 576.80,232.84 578.57,233.21 580.34,233.58 582.10,233.95 583.87,234.31 585.64,234.67 587.40,235.04 589.17,235.39 590.94,235.75 592.70,236.11 594.47,236.46 596.24,236.81 598.01,237.16 599.77,237.50 601.54,237.85 603.31,238.19 605.07,238.53 606.84,238.86 608.61,239.20 610.37,239.53 612.14,239.87 613.91,240.20"/>
<polyline fill="none" stroke="#6a6a6a" stroke-width="0.75" points="408.20,294.70 408.23,286.08 408.79,283.23 409.79,281.97 410.79,280.27 411.79,279.53 412.79,278.53 413.80,276.91 414.80,275.33 415.80,273.84 416.80,272.46 417.80,271.93 418.80,270.21 419.80,269.19 420.80,268.59 421.81,266.96 422.81,265.83 423.81,264.04 424.81,262.36 425.81,261.37 426.81,260.54 427.81,259.74 428.81,257.86 429.82,257.24 430.82,255.68 431.82,255.80 432.82,254.96 433.82,253.53 434.82,252.48 435.82,251.42 436.83,251.21 437.83,249.99 438.83,248.94 439.83,247.97 440.83,246.64 441.83,245.75 442.83,245.36 443.83,244.50 444.84,243.23 445.84,243.56 446.84,242.45 447.84,240.80 448.84,240.49 449.84,240.21 450.84,240.26 451.84,238.86 452.85,238.13 453.85,238.16 454.85,237.34 455.85,237.69 456.85,237.89 457.85,238.01 458.85,237.37 459.86,236.22 460.86,235.48 461.86,235.35 462.86,233.79 463.86,233.14 464.86,233.87 465.86,232.90 466.86,231.76 467.87,230.81 468.87,230.75 469.87,230.97 470.87,231.53 471.87,230.70 472.87,229.92 473.87,229.02 474.87,229.10 475.88,228.33 476.88,227.11 477.88,226.99 478.88,226.54 479.88,226.39 480.88,226.05 481.88,226.49 482.89,225.65 483.89,226.52 484.89,225.64 485.89,224.98 486.89,224.61 487.89,223.97 488.89,223.33 489.89,223.04 490.90,222.34 491.90,222.99 492.90,222.91 493.90,222.25 494.90,222.82 495.90,222.29 496.90,222.20 497.90,222.80 498.91,221.55 499.91,221.67 500.91,221.18 501.91,221.28 502.91,220.99 503.91,220.38 504.91,220.78 505.92,219.54 506.92,218.87 507.92,219.34 508.92,219.35 509.92,220.12 510.92,220.54 511.22,220.24 511.51,219.91 511.81,219.65 512.10,219.35 512.39,219.65 512.69,219.55 512.98,219.05 513.28,221.56 513.57,223.24 513.87,224.79 514.16,225.60 514.46,226.15 514.75,226.76 515.04,226.96 515.34,228.08 515.63,229.03 516.63,229.63 517.64,229.14 518.64,229.72 519.64,228.85 520.64,229.27 521.64,229.57 522.64,229.82 523.64,230.36 524.65,230.43 525.65,230.59 526.65,230.40 527.65,231.30 528.65,231.80 529.65,231.40 530.65,231.66 531.65,232.03 532.66,232.38 533.66,233.19 534.66,233.01 535.66,233.13 536.66,233.71 537.66,233.94 538.66,233.68 539.66,234.14 540.67,234.69 541.67,235.47 542.67,235.60 543.67,234.98 544.67,234.92 545.67,235.09 546.67,234.80 547.68,235.09 548.68,235.66 549.68,235.67 550.68,235.66 551.68,236.41 552.68,236.48 553.68,236.79 554.68,236.25 555.69,237.08 556.69,237.31 557.69,237.69 558.69,237.76 559.69,237.33 560.69,236.52 561.69,236.54 562.69,238.01 563.70,237.59 564.70,237.67 565.70,237.44 566.70,237.72 567.70,238.80 568.70,239.11 569.70,239.27 570.71,239.90 571.71,239.81 572.71,238.82 573.71,239.69 574.71,238.75 575.71,239.65 576.71,239.98 577.71,240.23 578.72,240.58 579.72,240.81 580.72,240.64 581.72,240.60 582.72,240.82 583.72,240.63 584.72,241.39 585.72,241.49 586.73,241.57 587.73,242.02 588.73,241.93 589.73,242.69 590.73,243.07 591.73,243.47 592.73,243.63 593.73,244.73 594.74,244.46 595.74,243.98 596.74,244.45 597.74,244.98 598.74,244.98 599.74,245.68 600.74,245.87 601.75,245.14 602.75,245.20 603.75,245.87 604.75,246.45 605.75,246.73 606.75,246.82 607.75,246.71 608.75,247.36 609.76,246.79 610.76,246.87 611.76,247.11 612.76,247.76 613.76,247.60"/>
<polyline fill="none" stroke="#333" stroke-width="0.7" points="408.20,294.70 408.35,293.44 408.64,291.43 408.94,289.93 409.23,288.81 409.53,287.95 409.82,287.28 410.11,286.74 410.41,286.30 410.70,285.94 411.00,285.62 411.29,285.34 411.59,285.08 411.88,284.85 413.65,283.62 415.42,282.51 417.18,281.42 418.95,280.35 420.72,279.30 422.48,278.27 424.25,277.26 426.02,276.27 427.78,275.29 429.55,274.33 431.32,273.39 433.09,272.46 434.85,271.55 436.62,270.65 438.39,269.77 440.15,268.91 441.92,268.05 443.69,267.22 445.45,266.40 447.22,265.59 448.99,264.80 450.76,264.02 452.52,263.25 454.29,262.50 456.06,261.76 457.82,261.03 459.59,260.32 461.36,259.62 463.12,258.93 464.89,258.25 466.66,257.58 468.43,256.93 470.19,256.28 471.96,255.65 473.73,255.03 475.49,254.42 477.26,253.82 479.03,253.23 480.79,252.65 482.56,252.08 484.33,251.52 486.10,250.97 487.86,250.43 489.63,249.89 491.40,249.37 493.16,248.86 494.93,248.35 496.70,247.86 498.46,247.37 500.23,246.89 502.00,246.42 503.77,245.96 505.53,245.50 507.30,245.06 507.89,244.91 508.48,244.76 509.07,244.62 509.66,244.47 510.24,244.33 510.83,244.19 511.42,244.04 512.01,243.90 512.60,243.76 513.19,243.93 513.78,244.91 514.37,245.72 514.96,246.41 515.55,246.99 516.13,247.48 516.72,247.90 517.31,248.26 517.90,248.57 518.49,248.84 519.08,249.08 519.67,249.30 520.26,249.49 522.02,249.97 523.79,250.36 525.56,250.69 527.33,251.00 529.09,251.30 530.86,251.58 532.63,251.85 534.39,252.13 536.16,252.39 537.93,252.66 539.69,252.93 541.46,253.19 543.23,253.45 545.00,253.71 546.76,253.97 548.53,254.22 550.30,254.48 552.06,254.73 553.83,254.98 555.60,255.23 557.36,255.48 559.13,255.72 560.90,255.97 562.67,256.21 564.43,256.45 566.20,256.69 567.97,256.93 569.73,257.17 571.50,257.40 573.27,257.64 575.03,257.87 576.80,258.10 578.57,258.33 580.34,258.56 582.10,258.79 583.87,259.01 585.64,259.24 587.40,259.46 589.17,259.68 590.94,259.90 592.70,260.12 594.47,260.34 596.24,260.55 598.01,260.77 599.77,260.98 601.54,261.19 603.31,261.40 605.07,261.61 606.84,261.82 608.61,262.03 610.37,262.23 612.14,262.44 613.91,262.64"/>
<polyline fill="none" stroke="#6a6a6a" stroke-width="0.75" points="408.20,294.70 408.23,287.93 408.79,286.53 409.79,285.82 410.79,285.42 411.79,285.06 412.79,285.02 413.80,284.18 414.80,283.24 415.80,282.36 416.80,281.63 417.80,280.25 418.80,278.79 419.80,277.91 420.80,277.79 421.81,277.96 422.81,277.34 423.81,276.73 424.81,275.87 425.81,275.70 426.81,275.55 427.81,274.73 428.81,274.11 429.82,273.91 430.82,273.24 431.82,272.87 432.82,271.69 433.82,271.31 434.82,271.01 435.82,270.11 436.83,269.46 437.83,269.31 438.83,269.11 439.83,269.35 440.83,268.39 441.83,267.89 442.83,267.20 443.83,267.19 444.84,266.54 445.84,266.13 446.84,265.92 447.84,265.11 448.84,264.44 449.84,264.36 450.84,263.59 451.84,263.09 452.85,262.30 453.85,262.64 454.85,262.27 455.85,261.82 456.85,261.22 457.85,261.50 458.85,260.99 459.86,260.00 460.86,259.61 461.86,259.07 462.86,258.72 463.86,258.55 464.86,257.44 465.86,256.78 466.86,256.11 467.87,255.68 468.87,255.50 469.87,255.65 470.87,255.60 471.87,255.12 472.87,255.11 473.87,255.71 474.87,255.15 475.88,255.06 476.88,254.84 477.88,254.33 478.88,253.84 479.88,253.62 480.88,253.07 481.88,252.04 482.89,251.79 483.89,250.40 484.89,250.41 485.89,250.54 486.89,249.84 487.89,249.67 488.89,249.25 489.89,248.83 490.90,249.30 491.90,249.44 492.90,249.43 493.90,248.72 494.90,248.33 495.90,248.23 496.90,248.25 497.90,247.29 498.91,247.60 499.91,246.59 500.91,246.29 501.91,246.06 502.91,246.16 503.91,245.61 504.91,245.61 505.92,245.19 506.92,245.73 507.92,245.11 508.92,244.35 509.92,244.39 510.92,244.19 511.22,243.65 511.51,243.64 511.81,243.57 512.10,243.53 512.39,243.84 512.69,243.43 512.98,243.74 513.28,246.94 513.57,248.69 513.87,249.26 514.16,249.28 514.46,249.91 514.75,250.45 515.04,249.91 515.34,249.88 515.63,249.80 516.63,249.85 517.64,250.52 518.64,251.33 519.64,251.89 520.64,251.93 521.64,252.15 522.64,251.74 523.64,251.74 524.65,251.69 525.65,252.04 526.65,251.97 527.65,251.94 528.65,252.62 529.65,253.19 530.65,253.75 531.65,253.15 532.66,253.37 533.66,253.15 534.66,253.88 535.66,254.73 536.66,254.80 537.66,254.52 538.66,254.72 539.66,254.64 540.67,254.50 541.67,254.45 542.67,254.68 543.67,254.88 544.67,255.08 545.67,255.32 546.67,255.48 547.68,256.36 548.68,256.27 549.68,256.35 550.68,256.53 551.68,256.62 552.68,256.92 553.68,256.76 554.68,257.35 555.69,257.71 556.69,257.75 557.69,257.45 558.69,257.54 559.69,257.42 560.69,257.70 561.69,257.59 562.69,257.60 563.70,257.12 564.70,257.31 565.70,257.44 566.70,257.33 567.70,257.77 568.70,257.74 569.70,257.99 570.71,258.75 571.71,258.98 572.71,258.51 573.71,258.73 574.71,258.91 575.71,259.40 576.71,260.22 577.71,260.15 578.72,260.74 579.72,259.90 580.72,260.40 581.72,260.67 582.72,260.78 583.72,261.15 584.72,261.29 585.72,261.34 586.73,261.64 587.73,261.36 588.73,261.28 589.73,261.00 590.73,260.72 591.73,261.17 592.73,261.78 593.73,262.10 594.74,261.59 595.74,262.17 596.74,262.10 597.74,261.80 598.74,260.85 599.74,261.71 600.74,261.86 601.75,262.04 602.75,261.93 603.75,262.63 604.75,262.74 605.75,262.93 606.75,263.42 607.75,263.87 608.75,264.23 609.76,263.70 610.76,263.27 611.76,263.23 612.76,263.36 613.76,263.52"/>
<polyline fill="none" stroke="#3a3a3a" stroke-width="0.7" points="408.20,294.70 408.35,294.04 408.64,292.98 408.94,292.17 409.23,291.55 409.53,291.07 409.82,290.67 410.11,290.35 410.41,290.07 410.70,289.83 411.00,289.62 411.29,289.42 411.59,289.24 411.88,289.06 413.65,288.12 415.42,287.23 417.18,286.37 418.95,285.52 420.72,284.68 422.48,283.85 424.25,283.04 426.02,282.25 427.78,281.46 429.55,280.69 431.32,279.93 433.09,279.19 434.85,278.45 436.62,277.73 438.39,277.02 440.15,276.33 441.92,275.64 443.69,274.96 445.45,274.30 447.22,273.64 448.99,273.00 450.76,272.37 452.52,271.75 454.29,271.14 456.06,270.53 457.82,269.94 459.59,269.36 461.36,268.79 463.12,268.22 464.89,267.67 466.66,267.12 468.43,266.59 470.19,266.06 471.96,265.54 473.73,265.03 475.49,264.53 477.26,264.03 479.03,263.55 480.79,263.07 482.56,262.60 484.33,262.14 486.10,261.68 487.86,261.24 489.63,260.80 491.40,260.36 493.16,259.94 494.93,259.52 496.70,259.11 498.46,258.70 500.23,258.30 502.00,257.91 503.77,257.53 505.53,257.15 507.30,256.77 507.89,256.65 508.48,256.53 509.07,256.41 509.66,256.29 510.24,256.17 510.83,256.05 511.42,255.93 512.01,255.81 512.60,255.69 513.19,255.77 513.78,256.39 514.37,256.90 514.96,257.33 515.55,257.70 516.13,258.01 516.72,258.28 517.31,258.52 517.90,258.72 518.49,258.90 519.08,259.06 519.67,259.20 520.26,259.33 522.02,259.66 523.79,259.94 525.56,260.18 527.33,260.41 529.09,260.63 530.86,260.84 532.63,261.04 534.39,261.24 536.16,261.45 537.93,261.65 539.69,261.84 541.46,262.04 543.23,262.24 545.00,262.43 546.76,262.62 548.53,262.81 550.30,263.01 552.06,263.20 553.83,263.38 555.60,263.57 557.36,263.76 559.13,263.94 560.90,264.13 562.67,264.31 564.43,264.49 566.20,264.67 567.97,264.85 569.73,265.03 571.50,265.21 573.27,265.38 575.03,265.56 576.80,265.73 578.57,265.91 580.34,266.08 582.10,266.25 583.87,266.42 585.64,266.59 587.40,266.76 589.17,266.92 590.94,267.09 592.70,267.26 594.47,267.42 596.24,267.58 598.01,267.75 599.77,267.91 601.54,268.07 603.31,268.23 605.07,268.39 606.84,268.54 608.61,268.70 610.37,268.85 612.14,269.01 613.91,269.16"/>
<polyline fill="none" stroke="#6a6a6a" stroke-width="0.75" points="408.20,294.70 408.23,291.32 408.79,290.52 409.79,289.97 410.79,289.04 411.79,287.73 412.79,287.69 413.80,287.16 414.80,286.27 415.80,285.73 416.80,285.72 417.80,285.31 418.80,284.64 419.80,284.09 420.80,283.64 421.81,282.75 422.81,282.31 423.81,282.12 424.81,281.84 425.81,280.59 426.81,280.77 427.81,280.70 428.81,280.13 429.82,279.41 430.82,279.44 431.82,279.04 432.82,278.83 433.82,278.41 434.82,278.30 435.82,277.68 436.83,277.18 437.83,276.76 438.83,276.10 439.83,275.82 440.83,274.74 441.83,274.71 442.83,274.29 443.83,273.92 444.84,273.58 445.84,273.58 446.84,273.03 447.84,272.37 448.84,271.95 449.84,271.76 450.84,271.45 451.84,271.37 452.85,271.01 453.85,270.46 454.85,269.71 455.85,269.82 456.85,269.42 457.85,269.67 458.85,269.45 459.86,269.59 460.86,269.62 461.86,269.08 462.86,268.81 463.86,268.20 464.86,267.73 465.86,267.23 466.86,266.69 467.87,266.59 468.87,266.01 469.87,266.06 470.87,265.39 471.87,265.32 472.87,264.68 473.87,264.76 474.87,265.08 475.88,264.31 476.88,264.03 477.88,264.42 478.88,263.25 479.88,262.61 480.88,262.98 481.88,262.43 482.89,261.98 483.89,262.00 484.89,261.58 485.89,262.09 486.89,261.48 487.89,261.42 488.89,260.79 489.89,260.69 490.90,259.98 491.90,259.97 492.90,259.77 493.90,259.00 494.90,258.68 495.90,258.43 496.90,258.58 497.90,258.34 498.91,258.02 499.91,258.16 500.91,258.20 501.91,257.45 502.91,257.46 503.91,257.62 504.91,257.49 505.92,256.54 506.92,256.77 507.92,256.43 508.92,256.06 509.92,255.84 510.92,255.63 511.22,255.10 511.51,255.85 511.81,256.28 512.10,256.04 512.39,256.09 512.69,256.27 512.98,255.33 513.28,257.35 513.57,258.56 513.87,258.99 514.16,258.78 514.46,258.92 514.75,259.06 515.04,259.89 515.34,259.83 515.63,260.08 516.63,260.31 517.64,260.15 518.64,260.23 519.64,260.36 520.64,260.62 521.64,260.25 522.64,260.46 523.64,260.65 524.65,260.65 525.65,260.70 526.65,260.82 527.65,260.64 528.65,260.32 529.65,260.58 530.65,261.38 531.65,261.45 532.66,262.03 533.66,261.62 534.66,261.30 535.66,261.21 536.66,261.55 537.66,261.46 538.66,262.25 539.66,262.61 540.67,263.21 541.67,263.34 542.67,262.94 543.67,262.93 544.67,263.52 545.67,263.54 546.67,263.19 547.68,263.03 548.68,263.17 549.68,263.33 550.68,262.69 551.68,262.79 552.68,262.92 553.68,262.89 554.68,262.90 555.69,263.19 556.69,263.49 557.69,263.41 558.69,263.84 559.69,264.63 560.69,265.26 561.69,265.39 562.69,265.28 563.70,265.33 564.70,265.36 565.70,265.09 566.70,265.26 567.70,265.49 568.70,265.50 569.70,265.27 570.71,265.56 571.71,265.62 572.71,265.82 573.71,265.92 574.71,265.47 575.71,265.71 576.71,266.18 577.71,265.88 578.72,266.14 579.72,265.84 580.72,266.12 581.72,266.45 582.72,267.23 583.72,267.70 584.72,267.64 585.72,267.80 586.73,267.84 587.73,268.37 588.73,268.00 589.73,267.60 590.73,267.88 591.73,268.10 592.73,267.87 593.73,268.57 594.74,268.22 595.74,268.13 596.74,268.29 597.74,268.42 598.74,269.27 599.74,269.26 600.74,269.38 601.75,268.98 602.75,268.42 603.75,268.88 604.75,268.86 605.75,269.05 606.75,268.88 607.75,269.06 608.75,269.35 609.76,269.30 610.76,269.29 611.76,269.86 612.76,270.27 613.76,270.13"/>
<polyline fill="none" stroke="#444" stroke-width="0.7" points="408.20,294.70 408.35,294.22 408.64,293.46 408.94,292.88 409.23,292.43 409.53,292.09 409.82,291.81 410.11,291.58 410.41,291.38 410.70,291.21 411.00,291.06 411.29,290.93 411.59,290.80 411.88,290.68 413.65,290.03 415.42,289.42 417.18,288.82 418.95,288.23 420.72,287.65 422.48,287.08 424.25,286.52 426.02,285.97 427.78,285.42 429.55,284.88 431.32,284.35 433.09,283.83 434.85,283.32 436.62,282.81 438.39,282.31 440.15,281.82 441.92,281.34 443.69,280.86 445.45,280.39 447.22,279.93 448.99,279.47 450.76,279.02 452.52,278.58 454.29,278.15 456.06,277.72 457.82,277.29 459.59,276.88 461.36,276.47 463.12,276.06 464.89,275.67 466.66,275.27 468.43,274.89 470.19,274.51 471.96,274.13 473.73,273.76 475.49,273.40 477.26,273.04 479.03,272.69 480.79,272.34 482.56,272.00 484.33,271.66 486.10,271.33 487.86,271.00 489.63,270.68 491.40,270.36 493.16,270.04 494.93,269.74 496.70,269.43 498.46,269.13 500.23,268.84 502.00,268.55 503.77,268.26 505.53,267.98 507.30,267.70 507.89,267.61 508.48,267.52 509.07,267.43 509.66,267.34 510.24,267.25 510.83,267.16 511.42,267.07 512.01,266.98 512.60,266.89 513.19,266.92 513.78,267.26 514.37,267.54 514.96,267.79 515.55,267.99 516.13,268.17 516.72,268.33 517.31,268.46 517.90,268.58 518.49,268.69 519.08,268.79 519.67,268.88 520.26,268.96 522.02,269.17 523.79,269.35 525.56,269.51 527.33,269.67 529.09,269.81 530.86,269.96 532.63,270.10 534.39,270.24 536.16,270.38 537.93,270.52 539.69,270.66 541.46,270.79 543.23,270.93 545.00,271.06 546.76,271.20 548.53,271.33 550.30,271.47 552.06,271.60 553.83,271.73 555.60,271.86 557.36,271.99 559.13,272.12 560.90,272.25 562.67,272.37 564.43,272.50 566.20,272.63 567.97,272.75 569.73,272.88 571.50,273.00 573.27,273.12 575.03,273.25 576.80,273.37 578.57,273.49 580.34,273.61 582.10,273.73 583.87,273.85 585.64,273.97 587.40,274.09 589.17,274.20 590.94,274.32 592.70,274.44 594.47,274.55 596.24,274.67 598.01,274.78 599.77,274.89 601.54,275.01 603.31,275.12 605.07,275.23 606.84,275.34 608.61,275.45 610.37,275.56 612.14,275.67 613.91,275.78"/>
<polyline fill="none" stroke="#6a6a6a" stroke-width="0.75" points="408.20,294.70 408.23,292.24 408.79,291.93 409.79,291.46 410.79,290.71 411.79,289.95 412.79,289.64 413.80,289.26 414.80,288.80 415.80,288.52 416.80,288.03 417.80,288.18 418.80,288.08 419.80,287.40 420.80,287.00 421.81,286.45 422.81,285.80 423.81,285.90 424.81,285.55 425.81,285.55 426.81,284.70 427.81,284.35 428.81,283.89 429.82,283.76 430.82,283.65 431.82,283.49 432.82,282.76 433.82,282.67 434.82,282.03 435.82,281.71 436.83,281.71 437.83,281.77 438.83,282.04 439.83,281.95 440.83,281.61 441.83,281.45 442.83,280.58 443.83,280.34 444.84,279.95 445.84,280.01 446.84,279.62 447.84,279.76 448.84,279.64 449.84,279.17 450.84,278.63 451.84,277.90 452.85,277.73 453.85,277.78 454.85,277.08 455.85,276.71 456.85,276.80 457.85,276.89 458.85,276.24 459.86,275.55 460.86,275.53 461.86,275.89 462.86,275.46 463.86,275.05 464.86,274.89 465.86,274.69 466.86,274.32 467.87,274.18 468.87,273.70 469.87,273.18 470.87,273.11 471.87,272.67 472.87,272.77 473.87,272.84 474.87,272.26 475.88,272.07 476.88,271.64 477.88,272.00 478.88,271.66 479.88,271.40 480.88,271.38 481.88,271.23 482.89,270.70 483.89,271.00 484.89,270.21 485.89,270.31 486.89,270.10 487.89,270.21 488.89,270.39 489.89,270.61 490.90,270.16 491.90,269.88 492.90,269.51 493.90,269.32 494.90,268.90 495.90,268.92 496.90,268.74 497.90,268.29 498.91,267.89 499.91,268.12 500.91,267.62 501.91,267.20 502.91,267.51 503.91,266.97 504.91,267.52 505.92,267.35 506.92,267.42 507.92,267.26 508.92,266.24 509.92,266.27 510.92,266.54 511.22,266.58 511.51,266.84 511.81,266.94 512.10,266.84 512.39,266.02 512.69,266.88 512.98,266.18 513.28,267.49 513.57,268.44 513.87,268.51 514.16,268.79 514.46,268.50 514.75,268.55 515.04,268.89 515.34,269.04 515.63,269.17 516.63,269.02 517.64,268.84 518.64,268.82 519.64,269.29 520.64,269.41 521.64,269.31 522.64,269.67 523.64,269.70 524.65,270.22 525.65,270.48 526.65,270.39 527.65,270.29 528.65,269.85 529.65,269.46 530.65,270.24 531.65,270.06 532.66,270.88 533.66,271.08 534.66,271.14 535.66,270.63 536.66,270.73 537.66,270.28 538.66,270.22 539.66,270.89 540.67,271.26 541.67,271.58 542.67,271.29 543.67,271.63 544.67,271.80 545.67,271.52 546.67,271.73 547.68,272.02 548.68,272.54 549.68,271.89 550.68,271.59 551.68,271.80 552.68,272.14 553.68,271.81 554.68,271.82 555.69,271.83 556.69,271.79 557.69,272.34 558.69,272.38 559.69,272.05 560.69,272.35 561.69,272.39 562.69,272.83 563.70,272.58 564.70,272.61 565.70,272.41 566.70,272.30 567.70,272.63 568.70,272.39 569.70,272.65 570.71,272.73 571.71,272.80 572.71,272.31 573.71,273.00 574.71,273.01 575.71,273.47 576.71,273.60 577.71,273.89 578.72,274.43 579.72,274.63 580.72,274.83 581.72,274.76 582.72,274.41 583.72,274.00 584.72,274.03 585.72,273.89 586.73,273.92 587.73,274.31 588.73,274.29 589.73,274.28 590.73,274.07 591.73,273.91 592.73,274.29 593.73,274.97 594.74,275.83 595.74,276.04 596.74,276.31 597.74,276.17 598.74,276.39 599.74,276.91 600.74,277.16 601.75,276.94 602.75,276.62 603.75,276.39 604.75,276.27 605.75,276.68 606.75,276.11 607.75,275.82 608.75,275.57 609.76,275.75 610.76,275.41 611.76,275.38 612.76,275.72 613.76,275.86"/>
<polyline fill="none" stroke="#555" stroke-width="0.7" points="408.20,294.70 408.35,294.52 408.64,294.24 408.94,294.02 409.23,293.86 409.53,293.73 409.82,293.63 410.11,293.55 410.41,293.48 410.70,293.42 411.00,293.36 411.29,293.31 411.59,293.27 411.88,293.23 413.65,292.99 415.42,292.77 417.18,292.55 418.95,292.34 420.72,292.12 422.48,291.91 424.25,291.69 426.02,291.48 427.78,291.26 429.55,291.05 431.32,290.84 433.09,290.62 434.85,290.41 436.62,290.20 438.39,289.99 440.15,289.78 441.92,289.57 443.69,289.37 445.45,289.16 447.22,288.95 448.99,288.74 450.76,288.54 452.52,288.33 454.29,288.13 456.06,287.93 457.82,287.72 459.59,287.52 461.36,287.32 463.12,287.12 464.89,286.91 466.66,286.71 468.43,286.52 470.19,286.32 471.96,286.12 473.73,285.92 475.49,285.72 477.26,285.53 479.03,285.33 480.79,285.13 482.56,284.94 484.33,284.75 486.10,284.55 487.86,284.36 489.63,284.17 491.40,283.97 493.16,283.78 494.93,283.59 496.70,283.40 498.46,283.21 500.23,283.02 502.00,282.83 503.77,282.65 505.53,282.46 507.30,282.27 507.89,282.21 508.48,282.15 509.07,282.09 509.66,282.02 510.24,281.96 510.83,281.90 511.42,281.84 512.01,281.78 512.60,281.71 513.19,281.69 513.78,281.78 514.37,281.86 514.96,281.92 515.55,281.98 516.13,282.03 516.72,282.07 517.31,282.11 517.90,282.15 518.49,282.18 519.08,282.21 519.67,282.24 520.26,282.27 522.02,282.35 523.79,282.41 525.56,282.48 527.33,282.54 529.09,282.60 530.86,282.66 532.63,282.71 534.39,282.77 536.16,282.83 537.93,282.89 539.69,282.94 541.46,283.00 543.23,283.05 545.00,283.11 546.76,283.17 548.53,283.22 550.30,283.28 552.06,283.33 553.83,283.38 555.60,283.44 557.36,283.49 559.13,283.55 560.90,283.60 562.67,283.65 564.43,283.71 566.20,283.76 567.97,283.81 569.73,283.86 571.50,283.92 573.27,283.97 575.03,284.02 576.80,284.07 578.57,284.12 580.34,284.17 582.10,284.22 583.87,284.27 585.64,284.32 587.40,284.37 589.17,284.42 590.94,284.47 592.70,284.52 594.47,284.57 596.24,284.62 598.01,284.66 599.77,284.71 601.54,284.76 603.31,284.81 605.07,284.86 606.84,284.90 608.61,284.95 610.37,285.00 612.14,285.04 613.91,285.09"/>
<polyline fill="none" stroke="#6a6a6a" stroke-width="0.75" points="408.20,294.70 408.23,293.78 408.79,293.53 409.79,293.34 410.79,292.92 411.79,293.10 412.79,293.26 413.80,292.76 414.80,292.73 415.80,292.52 416.80,291.86 417.80,291.52 418.80,291.78 419.80,291.76 420.80,291.87 421.81,291.88 422.81,291.44 423.81,291.51 424.81,291.03 425.81,290.76 426.81,290.80 427.81,290.68 428.81,290.66 429.82,290.38 430.82,290.20 431.82,290.16 432.82,289.81 433.82,290.13 434.82,289.65 435.82,289.15 436.83,289.03 437.83,289.04 438.83,288.85 439.83,289.10 440.83,288.97 441.83,288.95 442.83,288.88 443.83,288.83 444.84,288.74 445.84,288.52 446.84,288.26 447.84,288.56 448.84,288.42 449.84,288.20 450.84,288.06 451.84,288.07 452.85,287.83 453.85,287.79 454.85,288.05 455.85,287.27 456.85,287.57 457.85,287.24 458.85,287.16 459.86,287.15 460.86,287.05 461.86,287.23 462.86,287.11 463.86,287.32 464.86,287.49 465.86,287.29 466.86,286.77 467.87,286.20 468.87,286.30 469.87,286.03 470.87,285.68 471.87,285.59 472.87,285.58 473.87,285.28 474.87,285.66 475.88,285.54 476.88,285.45 477.88,285.39 478.88,285.24 479.88,284.92 480.88,284.90 481.88,284.51 482.89,284.35 483.89,284.25 484.89,283.73 485.89,283.72 486.89,283.62 487.89,283.80 488.89,283.57 489.89,284.09 490.90,284.05 491.90,284.22 492.90,283.67 493.90,283.33 494.90,283.04 495.90,282.66 496.90,282.94 497.90,282.92 498.91,282.90 499.91,282.56 500.91,282.50 501.91,282.48 502.91,282.47 503.91,282.16 504.91,281.96 505.92,281.82 506.92,282.16 507.92,282.15 508.92,281.87 509.92,281.97 510.92,281.91 511.22,281.80 511.51,281.59 511.81,281.46 512.10,281.41 512.39,281.30 512.69,281.86 512.98,281.38 513.28,281.78 513.57,282.03 513.87,281.99 514.16,282.25 514.46,282.19 514.75,281.91 515.04,282.48 515.34,282.55 515.63,282.36 516.63,282.42 517.64,282.91 518.64,282.16 519.64,282.34 520.64,282.25 521.64,282.71 522.64,283.00 523.64,282.82 524.65,282.59 525.65,281.86 526.65,282.02 527.65,281.80 528.65,281.91 529.65,282.57 530.65,282.79 531.65,282.60 532.66,282.19 533.66,282.31 534.66,282.56 535.66,282.71 536.66,282.89 537.66,282.72 538.66,282.98 539.66,282.96 540.67,283.02 541.67,282.76 542.67,282.85 543.67,283.18 544.67,283.39 545.67,283.27 546.67,282.91 547.68,283.15 548.68,283.22 549.68,283.32 550.68,283.32 551.68,283.58 552.68,283.63 553.68,283.82 554.68,283.49 555.69,283.36 556.69,283.43 557.69,283.60 558.69,283.74 559.69,283.83 560.69,283.72 561.69,283.71 562.69,283.84 563.70,283.71 564.70,283.64 565.70,283.50 566.70,283.53 567.70,283.88 568.70,284.32 569.70,284.44 570.71,284.28 571.71,283.73 572.71,283.96 573.71,284.30 574.71,284.13 575.71,284.18 576.71,284.39 577.71,284.17 578.72,284.82 579.72,284.79 580.72,284.64 581.72,284.36 582.72,284.28 583.72,284.68 584.72,284.63 585.72,284.50 586.73,284.76 587.73,284.67 588.73,284.43 589.73,284.67 590.73,285.01 591.73,285.00 592.73,285.05 593.73,285.20 594.74,284.70 595.74,284.65 596.74,284.91 597.74,284.75 598.74,285.12 599.74,285.13 600.74,284.80 601.75,284.41 602.75,284.25 603.75,284.07 604.75,284.24 605.75,284.45 606.75,284.97 607.75,285.10 608.75,285.12 609.76,284.97 610.76,284.84 611.76,284.95 612.76,284.77 613.76,284.86"/>
<polyline fill="none" stroke="#666" stroke-width="0.7" points="408.20,294.70 408.35,294.61 408.64,294.47 408.94,294.37 409.23,294.28 409.53,294.22 409.82,294.17 410.11,294.13 410.41,294.10 410.70,294.07 411.00,294.04 411.29,294.02 411.59,294.00 411.88,293.98 413.65,293.87 415.42,293.76 417.18,293.66 418.95,293.56 420.72,293.46 422.48,293.36 424.25,293.25 426.02,293.15 427.78,293.05 429.55,292.95 431.32,292.85 433.09,292.75 434.85,292.65 436.62,292.56 438.39,292.46 440.15,292.36 441.92,292.26 443.69,292.16 445.45,292.06 447.22,291.97 448.99,291.87 450.76,291.77 452.52,291.68 454.29,291.58 456.06,291.49 457.82,291.39 459.59,291.30 461.36,291.20 463.12,291.11 464.89,291.01 466.66,290.92 468.43,290.82 470.19,290.73 471.96,290.64 473.73,290.54 475.49,290.45 477.26,290.36 479.03,290.27 480.79,290.17 482.56,290.08 484.33,289.99 486.10,289.90 487.86,289.81 489.63,289.72 491.40,289.63 493.16,289.54 494.93,289.45 496.70,289.36 498.46,289.27 500.23,289.18 502.00,289.09 503.77,289.01 505.53,288.92 507.30,288.83 507.89,288.80 508.48,288.77 509.07,288.74 509.66,288.71 510.24,288.68 510.83,288.65 511.42,288.63 512.01,288.60 512.60,288.57 513.19,287.46 513.78,287.47 514.37,287.48 514.96,287.48 515.55,287.49 516.13,287.50 516.72,287.51 517.31,287.51 517.90,287.52 518.49,287.53 519.08,287.54 519.67,287.54 520.26,287.55 522.02,287.57 523.79,287.59 525.56,287.61 527.33,287.64 529.09,287.66 530.86,287.68 532.63,287.70 534.39,287.72 536.16,287.74 537.93,287.76 539.69,287.79 541.46,287.81 543.23,287.83 545.00,287.85 546.76,287.87 548.53,287.89 550.30,287.91 552.06,287.93 553.83,287.95 555.60,287.97 557.36,287.99 559.13,288.01 560.90,288.03 562.67,288.05 564.43,288.07 566.20,288.09 567.97,288.11 569.73,288.13 571.50,288.15 573.27,288.17 575.03,288.19 576.80,288.21 578.57,288.23 580.34,288.25 582.10,288.27 583.87,288.29 585.64,288.31 587.40,288.33 589.17,288.34 590.94,288.36 592.70,288.38 594.47,288.40 596.24,288.42 598.01,288.44 599.77,288.46 601.54,288.48 603.31,288.49 605.07,288.51 606.84,288.53 608.61,288.55 610.37,288.57 612.14,288.59 613.91,288.60"/>
<polyline fill="none" stroke="#6a6a6a" stroke-width="0.75" points="408.20,294.70 408.23,294.24 408.79,293.89 409.79,293.98 410.79,293.83 411.79,293.76 412.79,293.79 413.80,293.79 414.80,293.73 415.80,293.52 416.80,293.15 417.80,292.95 418.80,293.27 419.80,293.33 420.80,293.40 421.81,293.31 422.81,293.54 423.81,293.64 424.81,293.53 425.81,293.83 426.81,293.51 427.81,293.54 428.81,293.39 429.82,293.18 430.82,293.21 431.82,293.38 432.82,292.99 433.82,292.72 434.82,292.68 435.82,292.70 436.83,292.91 437.83,293.07 438.83,292.93 439.83,292.97 440.83,292.89 441.83,292.69 442.83,292.55 443.83,292.22 444.84,292.07 445.84,292.20 446.84,292.42 447.84,292.73 448.84,292.58 449.84,292.57 450.84,292.63 451.84,292.04 452.85,291.76 453.85,291.74 454.85,291.82 455.85,291.69 456.85,291.84 457.85,291.84 458.85,291.83 459.86,291.38 460.86,291.52 461.86,291.89 462.86,291.40 463.86,291.37 464.86,291.57 465.86,291.45 466.86,291.17 467.87,291.28 468.87,290.94 469.87,291.18 470.87,290.77 471.87,290.64 472.87,290.80 473.87,290.58 474.87,290.92 475.88,290.90 476.88,290.63 477.88,290.55 478.88,290.65 479.88,290.77 480.88,290.66 481.88,290.85 482.89,290.87 483.89,290.72 484.89,290.54 485.89,290.32 486.89,290.77 487.89,290.57 488.89,290.52 489.89,290.54 490.90,290.39 491.90,289.86 492.90,289.45 493.90,289.49 494.90,289.46 495.90,289.94 496.90,289.77 497.90,289.42 498.91,289.71 499.91,289.69 500.91,289.71 501.91,289.50 502.91,289.58 503.91,289.72 504.91,289.32 505.92,289.42 506.92,289.20 507.92,289.43 508.92,289.42 509.92,289.54 510.92,289.40 511.22,289.31 511.51,289.60 511.81,289.84 512.10,289.86 512.39,289.52 512.69,289.48 512.98,289.27 513.28,287.82 513.57,288.01 513.87,288.40 514.16,288.21 514.46,288.57 514.75,288.22 515.04,288.00 515.34,288.25 515.63,288.25 516.63,288.33 517.64,288.36 518.64,288.13 519.64,288.25 520.64,288.53 521.64,288.32 522.64,288.00 523.64,288.03 524.65,287.85 525.65,287.77 526.65,287.44 527.65,287.92 528.65,287.83 529.65,287.71 530.65,287.50 531.65,288.06 532.66,288.24 533.66,288.34 534.66,288.18 535.66,287.83 536.66,287.74 537.66,287.82 538.66,287.92 539.66,288.27 540.67,288.25 541.67,288.27 542.67,288.15 543.67,288.33 544.67,288.09 545.67,288.38 546.67,288.29 547.68,288.03 548.68,288.06 549.68,288.43 550.68,288.11 551.68,287.96 552.68,288.41 553.68,288.67 554.68,288.47 555.69,288.62 556.69,288.88 557.69,288.95 558.69,288.57 559.69,288.70 560.69,288.57 561.69,288.51 562.69,288.37 563.70,288.46 564.70,288.19 565.70,288.10 566.70,288.20 567.70,287.96 568.70,288.29 569.70,288.31 570.71,288.55 571.71,288.76 572.71,288.63 573.71,288.53 574.71,288.91 575.71,288.36 576.71,288.34 577.71,288.22 578.72,288.66 579.72,288.66 580.72,288.44 581.72,288.22 582.72,288.60 583.72,288.74 584.72,288.56 585.72,288.56 586.73,288.43 587.73,288.36 588.73,288.25 589.73,288.21 590.73,288.04 591.73,288.14 592.73,288.49 593.73,288.53 594.74,288.40 595.74,288.55 596.74,288.53 597.74,288.64 598.74,288.56 599.74,288.65 600.74,288.96 601.75,288.78 602.75,288.67 603.75,288.72 604.75,288.58 605.75,288.41 606.75,288.59 607.75,288.42 608.75,288.46 609.76,288.75 610.76,289.10 611.76,289.24 612.76,288.73 613.76,288.66"/>
<polyline fill="none" stroke="#777" stroke-width="0.7" points="408.20,294.70 408.35,294.67 408.64,294.62 408.94,294.59 409.23,294.56 409.53,294.54 409.82,294.52 410.11,294.51 410.41,294.50 410.70,294.49 411.00,294.48 411.29,294.47 411.59,294.46 411.88,294.45 413.65,294.42 415.42,294.38 417.18,294.34 418.95,294.31 420.72,294.27 422.48,294.23 424.25,294.20 426.02,294.16 427.78,294.13 429.55,294.09 431.32,294.06 433.09,294.02 434.85,293.99 436.62,293.95 438.39,293.92 440.15,293.88 441.92,293.85 443.69,293.81 445.45,293.78 447.22,293.74 448.99,293.71 450.76,293.67 452.52,293.64 454.29,293.60 456.06,293.57 457.82,293.54 459.59,293.50 461.36,293.47 463.12,293.44 464.89,293.40 466.66,293.37 468.43,293.34 470.19,293.30 471.96,293.27 473.73,293.24 475.49,293.20 477.26,293.17 479.03,293.14 480.79,293.11 482.56,293.07 484.33,293.04 486.10,293.01 487.86,292.98 489.63,292.94 491.40,292.91 493.16,292.88 494.93,292.85 496.70,292.82 498.46,292.79 500.23,292.75 502.00,292.72 503.77,292.69 505.53,292.66 507.30,292.63 507.89,292.62 508.48,292.61 509.07,292.60 509.66,292.59 510.24,292.58 510.83,292.57 511.42,292.56 512.01,292.55 512.60,292.54 513.19,291.99 513.78,291.99 514.37,291.99 514.96,291.99 515.55,291.99 516.13,291.99 516.72,291.99 517.31,291.99 517.90,291.99 518.49,291.99 519.08,291.99 519.67,291.99 520.26,291.99 522.02,291.99 523.79,291.99 525.56,291.99 527.33,291.99 529.09,291.99 530.86,291.99 532.63,291.99 534.39,291.99 536.16,291.99 537.93,291.99 539.69,291.99 541.46,291.99 543.23,291.99 545.00,291.99 546.76,291.99 548.53,291.99 550.30,291.99 552.06,291.99 553.83,291.99 555.60,291.99 557.36,291.99 559.13,291.99 560.90,291.99 562.67,291.99 564.43,291.99 566.20,291.99 567.97,291.99 569.73,291.99 571.50,291.99 573.27,291.99 575.03,291.99 576.80,291.99 578.57,291.99 580.34,291.99 582.10,291.99 583.87,291.99 585.64,291.99 587.40,291.99 589.17,291.99 590.94,291.99 592.70,291.99 594.47,291.99 596.24,291.99 598.01,291.99 599.77,291.99 601.54,291.99 603.31,291.99 605.07,291.99 606.84,291.99 608.61,291.99 610.37,291.99 612.14,291.99 613.91,291.99"/>
<polyline fill="none" stroke="#6a6a6a" stroke-width="0.75" points="408.20,294.70 408.23,294.55 408.79,294.38 409.79,294.46 410.79,294.69 411.79,294.70 412.79,294.56 413.80,294.64 414.80,294.60 415.80,294.15 416.80,294.50 417.80,294.59 418.80,294.73 419.80,294.55 420.80,294.43 421.81,294.54 422.81,294.38 423.81,294.48 424.81,294.82 425.81,294.94 426.81,294.68 427.81,294.42 428.81,294.36 429.82,294.21 430.82,294.15 431.82,294.10 432.82,294.33 433.82,294.38 434.82,294.78 435.82,294.41 436.83,294.13 437.83,294.30 438.83,294.21 439.83,294.38 440.83,294.27 441.83,294.14 442.83,294.30 443.83,294.12 444.84,294.22 445.84,293.92 446.84,294.04 447.84,294.06 448.84,294.20 449.84,294.17 450.84,294.26 451.84,294.24 452.85,294.45 453.85,294.06 454.85,293.96 455.85,293.92 456.85,293.80 457.85,293.48 458.85,293.41 459.86,293.20 460.86,293.25 461.86,293.23 462.86,293.28 463.86,293.63 464.86,293.52 465.86,293.58 466.86,293.75 467.87,293.95 468.87,293.85 469.87,293.58 470.87,293.49 471.87,293.51 472.87,293.49 473.87,293.69 474.87,293.64 475.88,293.61 476.88,293.64 477.88,293.46 478.88,293.67 479.88,293.61 480.88,293.50 481.88,293.32 482.89,293.54 483.89,292.97 484.89,293.06 485.89,293.11 486.89,292.88 487.89,293.29 488.89,293.24 489.89,293.44 490.90,293.26 491.90,292.83 492.90,292.77 493.90,292.66 494.90,292.70 495.90,292.75 496.90,292.95 497.90,293.04 498.91,292.78 499.91,292.65 500.91,292.63 501.91,292.58 502.91,292.69 503.91,292.80 504.91,293.06 505.92,293.22 506.92,293.04 507.92,292.91 508.92,292.92 509.92,293.07 510.92,293.10 511.22,292.95 511.51,292.81 511.81,292.67 512.10,292.86 512.39,293.31 512.69,293.05 512.98,292.89 513.28,292.17 513.57,291.64 513.87,292.09 514.16,292.17 514.46,292.03 514.75,292.09 515.04,292.31 515.34,292.18 515.63,292.14 516.63,291.99 517.64,292.21 518.64,291.96 519.64,292.25 520.64,292.30 521.64,292.08 522.64,292.28 523.64,292.13 524.65,292.15 525.65,291.97 526.65,292.02 527.65,291.88 528.65,292.06 529.65,292.26 530.65,292.00 531.65,291.96 532.66,291.61 533.66,291.95 534.66,291.88 535.66,292.30 536.66,292.13 537.66,291.83 538.66,292.01 539.66,291.92 540.67,292.33 541.67,292.04 542.67,292.14 543.67,292.42 544.67,292.48 545.67,292.13 546.67,292.09 547.68,291.91 548.68,291.78 549.68,292.39 550.68,292.54 551.68,292.56 552.68,292.55 553.68,292.41 554.68,292.53 555.69,292.62 556.69,292.35 557.69,292.25 558.69,292.38 559.69,291.96 560.69,291.97 561.69,292.16 562.69,292.22 563.70,292.04 564.70,291.97 565.70,291.93 566.70,292.00 567.70,291.92 568.70,292.02 569.70,292.11 570.71,292.05 571.71,292.37 572.71,292.32 573.71,292.10 574.71,292.47 575.71,292.71 576.71,292.34 577.71,292.08 578.72,292.17 579.72,291.86 580.72,291.96 581.72,292.19 582.72,292.11 583.72,291.97 584.72,292.13 585.72,292.38 586.73,292.29 587.73,292.12 588.73,292.15 589.73,292.14 590.73,292.48 591.73,292.56 592.73,292.41 593.73,292.31 594.74,292.30 595.74,292.56 596.74,292.32 597.74,292.45 598.74,292.02 599.74,292.14 600.74,292.20 601.75,292.02 602.75,291.84 603.75,291.86 604.75,292.09 605.75,292.29 606.75,292.65 607.75,292.67 608.75,292.42 609.76,292.45 610.76,292.29 611.76,292.24 612.76,292.09 613.76,292.15"/>
<line x1="637.2" y1="225.8" x2="644.4" y2="225.8" stroke="#ddd" stroke-width="1.1" />
<text x="645.0" y="227.70000000000002" font-size="5.4" fill="#444" text-anchor="start" font-weight="normal" textLength="9.5" lengthAdjust="spacingAndGlyphs" stroke="#444" stroke-width="0.22" >PD1</text>
<text x="657.1" y="227.70000000000002" font-size="5.4" fill="#444" text-anchor="start" font-weight="normal" textLength="15.5" lengthAdjust="spacingAndGlyphs" stroke="#444" stroke-width="0.22" >50 nM</text>
<line x1="637.2" y1="235.27" x2="644.4" y2="235.27" stroke="#ccc" stroke-width="1.1" />
<text x="645.0" y="237.17000000000002" font-size="5.4" fill="#444" text-anchor="start" font-weight="normal" textLength="9.5" lengthAdjust="spacingAndGlyphs" stroke="#444" stroke-width="0.22" >PD1</text>
<text x="657.1" y="237.17000000000002" font-size="5.4" fill="#444" text-anchor="start" font-weight="normal" textLength="18.6" lengthAdjust="spacingAndGlyphs" stroke="#444" stroke-width="0.22" >100 nM</text>
<line x1="637.2" y1="244.74" x2="644.4" y2="244.74" stroke="#bbb" stroke-width="1.1" />
<text x="645.0" y="246.64000000000001" font-size="5.4" fill="#444" text-anchor="start" font-weight="normal" textLength="9.5" lengthAdjust="spacingAndGlyphs" stroke="#444" stroke-width="0.22" >PD1</text>
<text x="657.1" y="246.64000000000001" font-size="5.4" fill="#444" text-anchor="start" font-weight="normal" textLength="18.6" lengthAdjust="spacingAndGlyphs" stroke="#444" stroke-width="0.22" >200 nM</text>
<line x1="637.2" y1="254.21" x2="644.4" y2="254.21" stroke="#999" stroke-width="1.1" />
<text x="645.0" y="256.11" font-size="5.4" fill="#444" text-anchor="start" font-weight="normal" textLength="9.5" lengthAdjust="spacingAndGlyphs" stroke="#444" stroke-width="0.22" >PD1</text>
<text x="657.1" y="256.11" font-size="5.4" fill="#444" text-anchor="start" font-weight="normal" textLength="18.6" lengthAdjust="spacingAndGlyphs" stroke="#444" stroke-width="0.22" >400 nM</text>
<line x1="637.2" y1="263.68" x2="644.4" y2="263.68" stroke="#888" stroke-width="1.1" />
<text x="645.0" y="265.58" font-size="5.4" fill="#444" text-anchor="start" font-weight="normal" textLength="9.5" lengthAdjust="spacingAndGlyphs" stroke="#444" stroke-width="0.22" >PD1</text>
<text x="657.1" y="265.58" font-size="5.4" fill="#444" text-anchor="start" font-weight="normal" textLength="18.6" lengthAdjust="spacingAndGlyphs" stroke="#444" stroke-width="0.22" >600 nM</text>
<line x1="637.2" y1="273.15000000000003" x2="644.4" y2="273.15000000000003" stroke="#666" stroke-width="1.1" />
<text x="645.0" y="275.05" font-size="5.4" fill="#444" text-anchor="start" font-weight="normal" textLength="9.5" lengthAdjust="spacingAndGlyphs" stroke="#444" stroke-width="0.22" >PD1</text>
<text x="657.1" y="275.05" font-size="5.4" fill="#444" text-anchor="start" font-weight="normal" textLength="18.6" lengthAdjust="spacingAndGlyphs" stroke="#444" stroke-width="0.22" >800 nM</text>
<line x1="637.2" y1="282.62" x2="644.4" y2="282.62" stroke="#444" stroke-width="1.1" />
<text x="645.0" y="284.52" font-size="5.4" fill="#444" text-anchor="start" font-weight="normal" textLength="9.5" lengthAdjust="spacingAndGlyphs" stroke="#444" stroke-width="0.22" >PD1</text>
<text x="657.1" y="284.52" font-size="5.4" fill="#444" text-anchor="start" font-weight="normal" textLength="21.7" lengthAdjust="spacingAndGlyphs" stroke="#444" stroke-width="0.22" >1500 nM</text>
<line x1="637.2" y1="292.09000000000003" x2="644.4" y2="292.09000000000003" stroke="#222" stroke-width="1.1" />
<text x="646.7" y="293.99" font-size="5.4" fill="#444" text-anchor="start" font-weight="normal" textLength="9.5" lengthAdjust="spacingAndGlyphs" stroke="#444" stroke-width="0.22" >PD1</text>
<text x="658.63" y="293.99" font-size="5.4" fill="#444" text-anchor="start" font-weight="normal" textLength="21.7" lengthAdjust="spacingAndGlyphs" stroke="#444" stroke-width="0.22" >2000 nM</text>
<text x="7.0" y="233.0" font-size="12.0" fill="#1a1a1a" text-anchor="start" font-weight="normal" textLength="7.0" lengthAdjust="spacingAndGlyphs" stroke="#1a1a1a" stroke-width="0.6">C</text>
<rect x="1.00" y="257.20" width="121.40" height="71.40" fill="url(#gelbg)" stroke="#7a7a7a" stroke-width="1.1" />
<line x1="0.9" y1="257.2" x2="0.9" y2="328.6" stroke="#9a9a9a" stroke-width="1.6" />
<text x="30.6" y="252.1" font-size="8.4" fill="#3a3a3a" text-anchor="start" font-weight="normal" textLength="21.9" lengthAdjust="spacingAndGlyphs" stroke="#3a3a3a" stroke-width="0.22" >P2c2s</text>
<line x1="3.2" y1="269.2" x2="19.3" y2="265.2" stroke="#d6d6d6" stroke-width="1.8" stroke-linecap="round" filter="url(#lblur)"/>
<line x1="3.2" y1="279.2" x2="19.3" y2="274.9" stroke="#d6d6d6" stroke-width="1.8" stroke-linecap="round" filter="url(#lblur)"/>
<line x1="3.2" y1="301.2" x2="18.2" y2="295.8" stroke="#d6d6d6" stroke-width="1.8" stroke-linecap="round" filter="url(#lblur)"/>
<path d="M27.00,280.90 C27.00,279.60 29.46,279.60 35.20,279.60 C40.94,279.60 43.40,279.86 43.40,280.90 C43.40,281.94 40.94,282.20 35.20,282.20 C29.46,282.20 27.00,282.20 27.00,280.90 Z" fill="#b4b4b4" fill-opacity="1.0" filter="url(#lblur)"/>
<path d="M50.00,280.60 C50.00,279.50 52.40,279.50 58.00,279.50 C63.60,279.50 66.00,279.72 66.00,280.60 C66.00,281.48 63.60,281.70 58.00,281.70 C52.40,281.70 50.00,281.70 50.00,280.60 Z" fill="#e0e0e0" fill-opacity="1.0" filter="url(#lblur)"/>
<path d="M73.00,280.60 C73.00,279.60 75.25,279.60 80.50,279.60 C85.75,279.60 88.00,279.80 88.00,280.60 C88.00,281.40 85.75,281.60 80.50,281.60 C75.25,281.60 73.00,281.60 73.00,280.60 Z" fill="#e6e6e6" fill-opacity="1.0" filter="url(#lblur)"/>
<path d="M26.00,302.70 C26.00,300.30 28.75,300.07 35.15,299.60 C41.55,299.13 44.30,299.38 44.30,301.30 C44.30,303.22 41.55,303.93 35.15,304.40 C28.75,304.87 26.00,305.10 26.00,302.70 Z" fill="#000" fill-opacity="1.0" filter="url(#bblur)"/>
<path d="M48.80,301.40 C48.80,299.00 51.72,298.87 58.55,298.60 C65.38,298.33 68.30,298.68 68.30,300.60 C68.30,302.52 65.38,303.13 58.55,303.40 C51.72,303.67 48.80,303.80 48.80,301.40 Z" fill="#000" fill-opacity="1.0" filter="url(#bblur)"/>
<path d="M72.60,301.80 C72.60,299.50 75.39,299.37 81.90,299.10 C88.41,298.83 91.20,299.16 91.20,301.00 C91.20,302.84 88.41,303.43 81.90,303.70 C75.39,303.97 72.60,304.10 72.60,301.80 Z" fill="#000" fill-opacity="1.0" filter="url(#bblur)"/>
<path d="M98.60,302.50 C98.60,300.55 101.87,300.45 109.50,300.25 C117.13,300.05 120.40,300.34 120.40,301.90 C120.40,303.46 117.13,303.95 109.50,304.15 C101.87,304.35 98.60,304.45 98.60,302.50 Z" fill="#000" fill-opacity="1.0" filter="url(#bblur)"/>
<text x="36.3" y="322.4" font-size="8.8" fill="#222" text-anchor="middle" font-weight="bold" stroke="#222" stroke-width="0.2" >1</text>
<text x="60.4" y="322.4" font-size="8.8" fill="#222" text-anchor="middle" font-weight="bold" stroke="#222" stroke-width="0.2" >2</text>
<text x="84.3" y="322.4" font-size="8.8" fill="#222" text-anchor="middle" font-weight="bold" stroke="#222" stroke-width="0.2" >3</text>
<text x="108.5" y="322.4" font-size="8.8" fill="#222" text-anchor="middle" font-weight="bold" stroke="#222" stroke-width="0.2" >4</text>
<rect x="129.10" y="257.50" width="107.20" height="71.70" fill="url(#gelbg)" stroke="#7a7a7a" stroke-width="1.1" />
<text x="138.0" y="252.1" font-size="8.4" fill="#3a3a3a" text-anchor="start" font-weight="normal" textLength="14.3" lengthAdjust="spacingAndGlyphs" stroke="#3a3a3a" stroke-width="0.22" >p34</text>
<path d="M136.00,281.20 C136.00,280.00 138.58,280.00 144.60,280.00 C150.62,280.00 153.20,280.24 153.20,281.20 C153.20,282.16 150.62,282.40 144.60,282.40 C138.58,282.40 136.00,282.40 136.00,281.20 Z" fill="#c6c6c6" fill-opacity="1.0" filter="url(#lblur)"/>
<path d="M161.00,281.30 C161.00,280.20 163.55,280.20 169.50,280.20 C175.45,280.20 178.00,280.42 178.00,281.30 C178.00,282.18 175.45,282.40 169.50,282.40 C163.55,282.40 161.00,282.40 161.00,281.30 Z" fill="#e0e0e0" fill-opacity="1.0" filter="url(#lblur)"/>
<path d="M190.00,278.00 C190.00,276.00 193.15,275.83 200.50,275.50 C207.85,275.17 211.00,275.40 211.00,277.00 C211.00,278.60 207.85,279.17 200.50,279.50 C193.15,279.83 190.00,280.00 190.00,278.00 Z" fill="#f2f2f2" fill-opacity="1.0" filter="url(#lblur)"/>
<path d="M129.00,301.20 C129.00,300.20 129.39,300.20 130.30,300.20 C131.21,300.20 131.60,300.40 131.60,301.20 C131.60,302.00 131.21,302.20 130.30,302.20 C129.39,302.20 129.00,302.20 129.00,301.20 Z" fill="#333" fill-opacity="1.0" filter="url(#bblur)"/>
<path d="M135.60,301.30 C135.60,299.20 138.33,299.10 144.70,298.90 C151.07,298.70 153.80,299.02 153.80,300.70 C153.80,302.38 151.07,302.90 144.70,303.10 C138.33,303.30 135.60,303.40 135.60,301.30 Z" fill="#000" fill-opacity="1.0" filter="url(#bblur)"/>
<path d="M160.30,301.50 C160.30,299.60 163.05,299.53 169.45,299.40 C175.85,299.27 178.60,299.58 178.60,301.10 C178.60,302.62 175.85,303.07 169.45,303.20 C163.05,303.33 160.30,303.40 160.30,301.50 Z" fill="#000" fill-opacity="1.0" filter="url(#bblur)"/>
<path d="M185.80,302.00 C185.80,299.60 188.59,299.67 195.10,299.80 C201.61,299.93 204.40,300.48 204.40,302.40 C204.40,304.32 201.61,304.73 195.10,304.60 C188.59,304.47 185.80,304.40 185.80,302.00 Z" fill="#000" fill-opacity="1.0" filter="url(#bblur)"/>
<path d="M213.80,303.80 C213.80,302.10 216.14,302.50 221.60,303.30 C227.06,304.10 229.40,304.84 229.40,306.20 C229.40,307.56 227.06,307.50 221.60,306.70 C216.14,305.90 213.80,305.50 213.80,303.80 Z" fill="#000" fill-opacity="1.0" filter="url(#bblur)"/>
<text x="145.2" y="322.5" font-size="8.8" fill="#222" text-anchor="middle" font-weight="bold" stroke="#222" stroke-width="0.2" >1</text>
<text x="169.3" y="322.5" font-size="8.8" fill="#222" text-anchor="middle" font-weight="bold" stroke="#222" stroke-width="0.2" >2</text>
<text x="193.6" y="322.5" font-size="8.8" fill="#222" text-anchor="middle" font-weight="bold" stroke="#222" stroke-width="0.2" >3</text>
<text x="217.4" y="322.5" font-size="8.8" fill="#222" text-anchor="middle" font-weight="bold" stroke="#222" stroke-width="0.2" >4</text>
<text x="245.8" y="285.9" font-size="8.6" fill="#3a3a3a" text-anchor="start" font-weight="normal" textLength="15.6" lengthAdjust="spacingAndGlyphs" stroke="#3a3a3a" stroke-width="0.22" >PD1</text>
<text x="245.8" y="308.4" font-size="9.0" fill="#3a3a3a" text-anchor="start" font-weight="normal" textLength="48.4" lengthAdjust="spacingAndGlyphs" stroke="#3a3a3a" stroke-width="0.22" >Streptavidin</text>
<text x="3.9" y="394.2" font-size="8.8" fill="#333" text-anchor="start" font-weight="normal" stroke="#333" stroke-width="0.22" >1.</text>
<text x="17.6" y="394.2" font-size="8.8" fill="#333" text-anchor="start" font-weight="normal" stroke="#333" stroke-width="0.22" >0,16</text>
<text x="38.6" y="394.2" font-size="8.8" fill="#333" text-anchor="start" font-weight="normal" textLength="26.8" lengthAdjust="spacingAndGlyphs" stroke="#333" stroke-width="0.22" >mg/ml</text>
<text x="3.9" y="405.7" font-size="8.8" fill="#333" text-anchor="start" font-weight="normal" stroke="#333" stroke-width="0.22" >2.</text>
<text x="17.6" y="405.7" font-size="8.8" fill="#333" text-anchor="start" font-weight="normal" stroke="#333" stroke-width="0.22" >0,08</text>
<text x="38.6" y="405.7" font-size="8.8" fill="#333" text-anchor="start" font-weight="normal" textLength="26.8" lengthAdjust="spacingAndGlyphs" stroke="#333" stroke-width="0.22" >mg/ml</text>
<text x="3.9" y="417.2" font-size="8.8" fill="#333" text-anchor="start" font-weight="normal" stroke="#333" stroke-width="0.22" >3.</text>
<text x="17.6" y="417.2" font-size="8.8" fill="#333" text-anchor="start" font-weight="normal" stroke="#333" stroke-width="0.22" >0,04</text>
<text x="38.6" y="417.2" font-size="8.8" fill="#333" text-anchor="start" font-weight="normal" textLength="26.8" lengthAdjust="spacingAndGlyphs" stroke="#333" stroke-width="0.22" >mg/ml</text>
<text x="3.9" y="428.7" font-size="8.8" fill="#333" text-anchor="start" font-weight="normal" stroke="#333" stroke-width="0.22" >4.</text>
<text x="17.6" y="428.7" font-size="8.8" fill="#333" text-anchor="start" font-weight="normal" stroke="#333" stroke-width="0.22" >0</text>
<text x="38.6" y="428.7" font-size="8.8" fill="#333" text-anchor="start" font-weight="normal" textLength="26.8" lengthAdjust="spacingAndGlyphs" stroke="#333" stroke-width="0.22" >mg/ml</text>
<path d="M76.5,386.1 H83.5 V430 H76.5" fill="none" stroke="#777" stroke-width="1"/>
<text x="94.7" y="412.2" font-size="10" fill="#333" text-anchor="start" font-weight="normal" textLength="17.5" lengthAdjust="spacingAndGlyphs" stroke="#333" stroke-width="0.22" >PD1</text>
<rect x="129.20" y="377.20" width="107.30" height="65.20" fill="url(#gelbg)" stroke="#7a7a7a" stroke-width="1.1" />
<text x="135.4" y="370.7" font-size="9.2" fill="#3a3a3a" text-anchor="start" font-weight="normal" textLength="76.6" lengthAdjust="spacingAndGlyphs" stroke="#3a3a3a" stroke-width="0.22" >immobilization bed</text>
<path d="M139.00,401.30 C139.00,400.60 141.55,400.60 147.50,400.60 C153.45,400.60 156.00,400.74 156.00,401.30 C156.00,401.86 153.45,402.00 147.50,402.00 C141.55,402.00 139.00,402.00 139.00,401.30 Z" fill="#e8e8e8" fill-opacity="1.0" filter="url(#sblur)"/>
<path d="M165.00,401.00 C165.00,400.30 167.70,400.30 174.00,400.30 C180.30,400.30 183.00,400.44 183.00,401.00 C183.00,401.56 180.30,401.70 174.00,401.70 C167.70,401.70 165.00,401.70 165.00,401.00 Z" fill="#e8e8e8" fill-opacity="1.0" filter="url(#sblur)"/>
<path d="M138.90,417.10 C138.90,415.10 141.68,415.00 148.15,414.80 C154.62,414.60 157.40,414.90 157.40,416.50 C157.40,418.10 154.62,418.60 148.15,418.80 C141.68,419.00 138.90,419.10 138.90,417.10 Z" fill="#000" fill-opacity="1.0" filter="url(#bblur)"/>
<path d="M165.20,416.90 C165.20,414.80 168.08,414.63 174.80,414.30 C181.52,413.97 184.40,414.22 184.40,415.90 C184.40,417.58 181.52,418.17 174.80,418.50 C168.08,418.83 165.20,419.00 165.20,416.90 Z" fill="#000" fill-opacity="1.0" filter="url(#bblur)"/>
<path d="M190.70,416.50 C190.70,414.20 193.49,414.03 200.00,413.70 C206.51,413.37 209.30,413.66 209.30,415.50 C209.30,417.34 206.51,417.97 200.00,418.30 C193.49,418.63 190.70,418.80 190.70,416.50 Z" fill="#000" fill-opacity="1.0" filter="url(#bblur)"/>
<path d="M215.70,416.70 C215.70,414.60 218.49,414.70 225.00,414.90 C231.51,415.10 234.30,415.62 234.30,417.30 C234.30,418.98 231.51,419.30 225.00,419.10 C218.49,418.90 215.70,418.80 215.70,416.70 Z" fill="#000" fill-opacity="1.0" filter="url(#bblur)"/>
<text x="145.5" y="436.5" font-size="8.8" fill="#222" text-anchor="middle" font-weight="bold" stroke="#222" stroke-width="0.2" >1</text>
<text x="169.4" y="436.5" font-size="8.8" fill="#222" text-anchor="middle" font-weight="bold" stroke="#222" stroke-width="0.2" >2</text>
<text x="193.5" y="436.5" font-size="8.8" fill="#222" text-anchor="middle" font-weight="bold" stroke="#222" stroke-width="0.2" >3</text>
<text x="217.6" y="436.5" font-size="8.8" fill="#222" text-anchor="middle" font-weight="bold" stroke="#222" stroke-width="0.2" >4</text>
<text x="245.4" y="402.1" font-size="8.6" fill="#3a3a3a" text-anchor="start" font-weight="normal" textLength="15.6" lengthAdjust="spacingAndGlyphs" stroke="#3a3a3a" stroke-width="0.22" >PD1</text>
<text x="245.4" y="418.8" font-size="9.0" fill="#3a3a3a" text-anchor="start" font-weight="normal" textLength="48.8" lengthAdjust="spacingAndGlyphs" stroke="#3a3a3a" stroke-width="0.22" >Streptavidin</text>
<text x="349.0" y="335.3" font-size="12.3" fill="#1a1a1a" text-anchor="start" font-weight="normal" textLength="7.9" lengthAdjust="spacingAndGlyphs" stroke="#1a1a1a" stroke-width="0.55">D</text>
<line x1="381.7" y1="339.8" x2="381.7" y2="493.1" stroke="#222" stroke-width="1.2" />
<line x1="381.09999999999997" y1="492.5" x2="621.2" y2="492.5" stroke="#222" stroke-width="1.2" />
<line x1="378.8" y1="492.5" x2="381.7" y2="492.5" stroke="#222" stroke-width="1.1" />
<text x="372.8" y="495.5" font-size="8.4" fill="#1a1a1a" text-anchor="end" font-weight="bold" stroke="#1a1a1a" stroke-width="0.2" >0</text>
<line x1="378.8" y1="416.1" x2="381.7" y2="416.1" stroke="#222" stroke-width="1.1" />
<text x="372.8" y="419.1" font-size="8.4" fill="#1a1a1a" text-anchor="end" font-weight="bold" stroke="#1a1a1a" stroke-width="0.2" >1</text>
<line x1="378.8" y1="339.7" x2="381.7" y2="339.7" stroke="#222" stroke-width="1.1" />
<text x="372.8" y="342.7" font-size="8.4" fill="#1a1a1a" text-anchor="end" font-weight="bold" stroke="#1a1a1a" stroke-width="0.2" >2</text>
<line x1="381.7" y1="492.5" x2="381.7" y2="496.3" stroke="#222" stroke-width="1.1" />
<line x1="441.6" y1="492.5" x2="441.6" y2="496.3" stroke="#222" stroke-width="1.1" />
<line x1="501.5" y1="492.5" x2="501.5" y2="496.3" stroke="#222" stroke-width="1.1" />
<line x1="561.2" y1="492.5" x2="561.2" y2="496.3" stroke="#222" stroke-width="1.1" />
<line x1="620.8" y1="492.5" x2="620.8" y2="496.3" stroke="#222" stroke-width="1.1" />
<rect x="388.90" y="382.10" width="9.15" height="109.85" fill="url(#hatchD)" stroke="#111" stroke-width="1.15" />
<rect x="398.05" y="484.71" width="9.15" height="7.24" fill="#4d4d4d" stroke="#111" stroke-width="1.15" />
<rect x="407.20" y="487.15" width="9.15" height="4.80" fill="#fff" stroke="#111" stroke-width="1.15" />
<rect x="416.35" y="488.99" width="9.15" height="2.96" fill="#888" stroke="#111" stroke-width="1.15" />
<rect x="425.50" y="472.87" width="9.15" height="19.08" fill="#d0d0d0" stroke="#111" stroke-width="1.15" />
<line x1="393.47499999999997" y1="379.428" x2="393.47499999999997" y2="384.77599999999995" stroke="#111" stroke-width="1.0" />
<line x1="391.775" y1="379.428" x2="395.17499999999995" y2="379.428" stroke="#111" stroke-width="1.0" />
<line x1="391.775" y1="384.77599999999995" x2="395.17499999999995" y2="384.77599999999995" stroke="#111" stroke-width="1.0" />
<line x1="402.62499999999994" y1="484.2488" x2="402.62499999999994" y2="485.1656" stroke="#111" stroke-width="1.0" />
<line x1="400.92499999999995" y1="484.2488" x2="404.32499999999993" y2="484.2488" stroke="#111" stroke-width="1.0" />
<line x1="400.92499999999995" y1="485.1656" x2="404.32499999999993" y2="485.1656" stroke="#111" stroke-width="1.0" />
<line x1="430.075" y1="471.49" x2="430.075" y2="474.2404" stroke="#111" stroke-width="1.0" />
<line x1="428.375" y1="471.49" x2="431.775" y2="471.49" stroke="#111" stroke-width="1.0" />
<line x1="428.375" y1="474.2404" x2="431.775" y2="474.2404" stroke="#111" stroke-width="1.0" />
<text x="411.9" y="510.1" font-size="9.6" fill="#222" text-anchor="middle" font-weight="normal" textLength="25.6" lengthAdjust="spacingAndGlyphs" stroke="#222" stroke-width="0.22" >P2c2s</text>
<rect x="448.50" y="362.01" width="9.15" height="129.94" fill="url(#hatchD)" stroke="#111" stroke-width="1.15" />
<rect x="457.65" y="487.46" width="9.15" height="4.49" fill="#4d4d4d" stroke="#111" stroke-width="1.15" />
<rect x="466.80" y="487.00" width="9.15" height="4.95" fill="#fff" stroke="#111" stroke-width="1.15" />
<rect x="475.95" y="488.37" width="9.15" height="3.58" fill="#888" stroke="#111" stroke-width="1.15" />
<rect x="485.10" y="460.64" width="9.15" height="31.31" fill="#d0d0d0" stroke="#111" stroke-width="1.15" />
<line x1="453.075" y1="352.07679999999993" x2="453.075" y2="371.94079999999997" stroke="#111" stroke-width="1.0" />
<line x1="451.375" y1="352.07679999999993" x2="454.775" y2="352.07679999999993" stroke="#111" stroke-width="1.0" />
<line x1="451.375" y1="371.94079999999997" x2="454.775" y2="371.94079999999997" stroke="#111" stroke-width="1.0" />
<line x1="471.375" y1="486.5408" x2="471.375" y2="487.45759999999996" stroke="#111" stroke-width="1.0" />
<line x1="469.675" y1="486.5408" x2="473.075" y2="486.5408" stroke="#111" stroke-width="1.0" />
<line x1="469.675" y1="487.45759999999996" x2="473.075" y2="487.45759999999996" stroke="#111" stroke-width="1.0" />
<line x1="489.675" y1="457.20320000000004" x2="489.675" y2="464.0792" stroke="#111" stroke-width="1.0" />
<line x1="487.975" y1="457.20320000000004" x2="491.375" y2="457.20320000000004" stroke="#111" stroke-width="1.0" />
<line x1="487.975" y1="464.0792" x2="491.375" y2="464.0792" stroke="#111" stroke-width="1.0" />
<text x="471.6" y="510.1" font-size="9.6" fill="#222" text-anchor="middle" font-weight="normal" textLength="15.8" lengthAdjust="spacingAndGlyphs" stroke="#222" stroke-width="0.22" >P34</text>
<rect x="508.10" y="488.53" width="9.15" height="3.42" fill="url(#hatchD)" stroke="#111" stroke-width="1.15" />
<rect x="517.25" y="488.30" width="9.15" height="3.65" fill="#4d4d4d" stroke="#111" stroke-width="1.15" />
<rect x="526.40" y="488.53" width="9.15" height="3.42" fill="#fff" stroke="#111" stroke-width="1.15" />
<rect x="535.55" y="488.30" width="9.15" height="3.65" fill="#888" stroke="#111" stroke-width="1.15" />
<rect x="544.70" y="488.30" width="9.15" height="3.65" fill="#d0d0d0" stroke="#111" stroke-width="1.15" />
<line x1="540.125" y1="487.6868" x2="540.125" y2="488.9092" stroke="#111" stroke-width="1.0" />
<line x1="538.425" y1="487.6868" x2="541.825" y2="487.6868" stroke="#111" stroke-width="1.0" />
<line x1="538.425" y1="488.9092" x2="541.825" y2="488.9092" stroke="#111" stroke-width="1.0" />
<text x="532.6" y="510.1" font-size="9.6" fill="#222" text-anchor="middle" font-weight="normal" textLength="25.6" lengthAdjust="spacingAndGlyphs" stroke="#222" stroke-width="0.22" >cNEG I</text>
<rect x="567.70" y="489.06" width="9.15" height="2.89" fill="url(#hatchD)" stroke="#111" stroke-width="1.15" />
<rect x="576.85" y="489.06" width="9.15" height="2.89" fill="#4d4d4d" stroke="#111" stroke-width="1.15" />
<rect x="586.00" y="489.98" width="9.15" height="1.97" fill="#fff" stroke="#111" stroke-width="1.15" />
<rect x="595.15" y="489.44" width="9.15" height="2.51" fill="#888" stroke="#111" stroke-width="1.15" />
<rect x="604.30" y="488.22" width="9.15" height="3.73" fill="#d0d0d0" stroke="#111" stroke-width="1.15" />
<line x1="599.7250000000001" y1="488.98560000000003" x2="599.7250000000001" y2="489.9024" stroke="#111" stroke-width="1.0" />
<line x1="598.0250000000001" y1="488.98560000000003" x2="601.4250000000002" y2="488.98560000000003" stroke="#111" stroke-width="1.0" />
<line x1="598.0250000000001" y1="489.9024" x2="601.4250000000002" y2="489.9024" stroke="#111" stroke-width="1.0" />
<line x1="608.8750000000001" y1="487.3048" x2="608.8750000000001" y2="489.13840000000005" stroke="#111" stroke-width="1.0" />
<line x1="607.1750000000001" y1="487.3048" x2="610.5750000000002" y2="487.3048" stroke="#111" stroke-width="1.0" />
<line x1="607.1750000000001" y1="489.13840000000005" x2="610.5750000000002" y2="489.13840000000005" stroke="#111" stroke-width="1.0" />
<text x="591.4" y="510.1" font-size="9.6" fill="#222" text-anchor="middle" font-weight="normal" textLength="33" lengthAdjust="spacingAndGlyphs" stroke="#222" stroke-width="0.22" >cNEG III</text>
<line x1="381.09999999999997" y1="492.5" x2="621.2" y2="492.5" stroke="#222" stroke-width="1.2" />
<line x1="381.7" y1="492.5" x2="381.7" y2="496.3" stroke="#222" stroke-width="1.1" />
<line x1="441.6" y1="492.5" x2="441.6" y2="496.3" stroke="#222" stroke-width="1.1" />
<line x1="501.5" y1="492.5" x2="501.5" y2="496.3" stroke="#222" stroke-width="1.1" />
<line x1="561.2" y1="492.5" x2="561.2" y2="496.3" stroke="#222" stroke-width="1.1" />
<line x1="620.8" y1="492.5" x2="620.8" y2="496.3" stroke="#222" stroke-width="1.1" />
<text transform="translate(350.9,411.2) rotate(-90)" font-size="9" fill="#8a8a8a" text-anchor="middle" textLength="69.7" lengthAdjust="spacingAndGlyphs">Binding Capacity</text>
<text transform="translate(362.0,411.2) rotate(-90)" font-size="9" fill="#8a8a8a" text-anchor="middle" textLength="86" lengthAdjust="spacingAndGlyphs">[Absorbance 450 nm]</text>
<rect x="498.60" y="368.20" width="6.20" height="6.00" fill="url(#hatchD)" stroke="#222" stroke-width="1.1" />
<text x="507.2" y="374.2" font-size="8.8" fill="#2a2a2a" text-anchor="start" font-weight="bold" textLength="171.4" lengthAdjust="spacingAndGlyphs" >hPD-1 (residues 21-168, C-terminal His-tag)</text>
<rect x="498.60" y="384.35" width="6.20" height="6.00" fill="#4d4d4d" stroke="#222" stroke-width="1.1" />
<text x="507.2" y="390.34999999999997" font-size="8.8" fill="#2a2a2a" text-anchor="start" font-weight="bold" textLength="171.4" lengthAdjust="spacingAndGlyphs" >hPD-L1 (residues 19-239, C-terminal His-tag)</text>
<rect x="498.60" y="400.50" width="6.20" height="6.00" fill="#fff" stroke="#222" stroke-width="1.1" />
<text x="507.2" y="406.5" font-size="8.8" fill="#2a2a2a" text-anchor="start" font-weight="bold" textLength="64.6" lengthAdjust="spacingAndGlyphs" >Trypsin (Bovine)</text>
<rect x="498.60" y="416.65" width="6.20" height="6.00" fill="#888" stroke="#222" stroke-width="1.1" />
<text x="507.2" y="422.65" font-size="8.8" fill="#2a2a2a" text-anchor="start" font-weight="bold" textLength="90.8" lengthAdjust="spacingAndGlyphs" >Bovine Serum Albumin</text>
<rect x="498.60" y="432.80" width="6.20" height="6.00" fill="#d0d0d0" stroke="#222" stroke-width="1.1" />
<text x="507.2" y="438.79999999999995" font-size="8.8" fill="#2a2a2a" text-anchor="start" font-weight="bold" textLength="111.0" lengthAdjust="spacingAndGlyphs" >Elastase, Human Neutrophil</text>
</svg>
</body></html>
